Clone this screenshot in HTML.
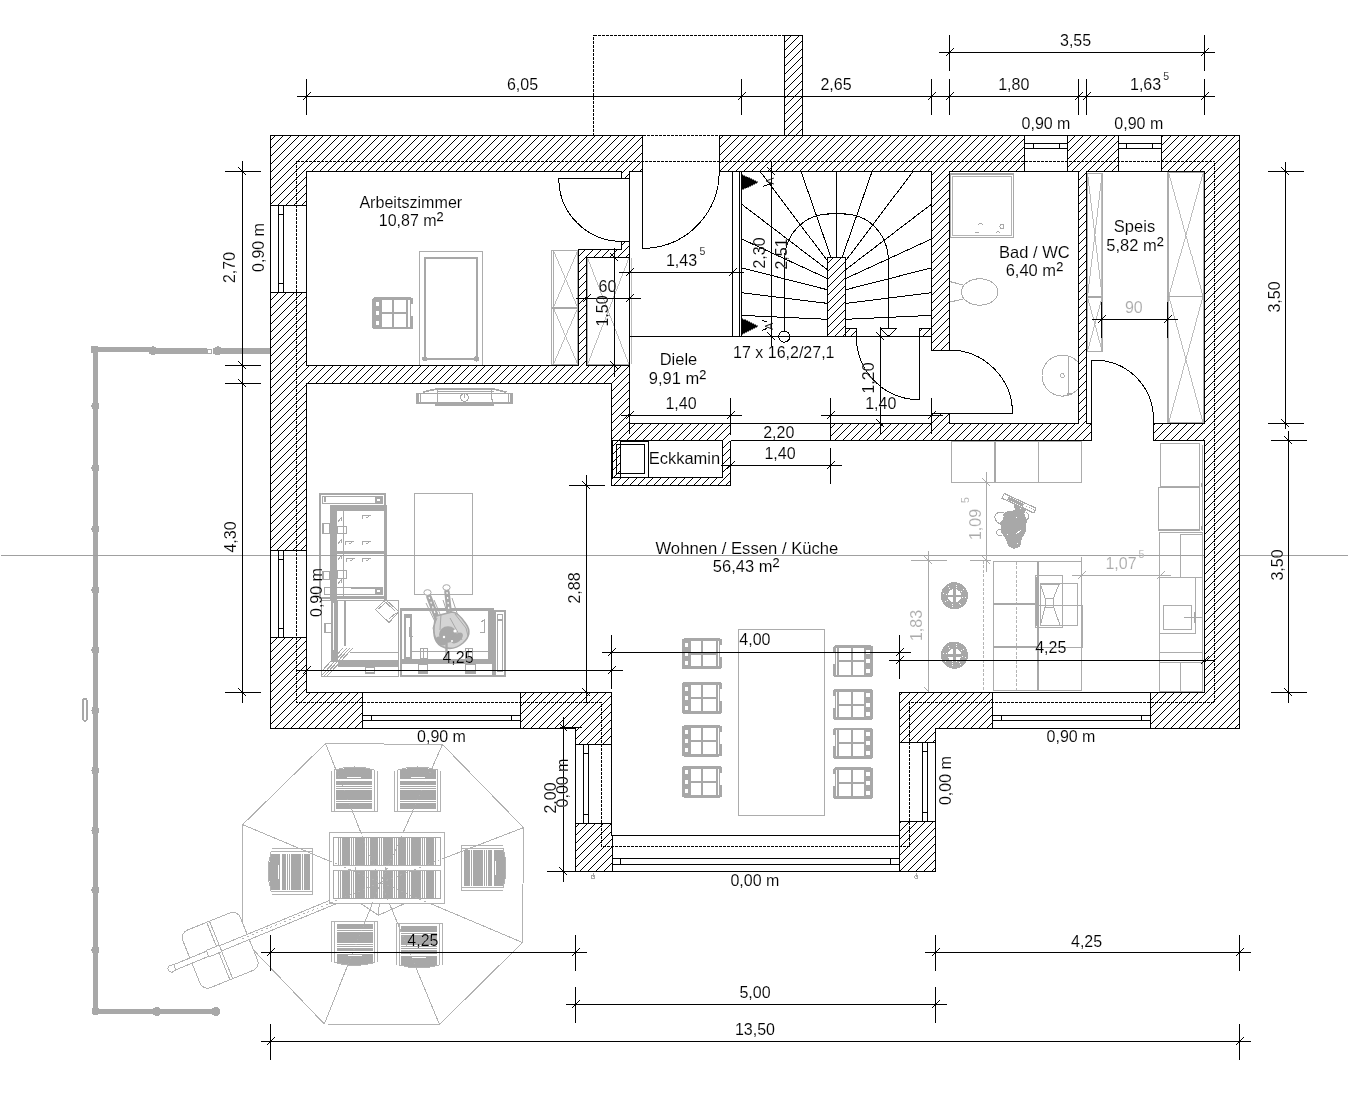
<!DOCTYPE html>
<html><head><meta charset="utf-8"><title>Grundriss Erdgeschoss</title>
<style>
html,body{margin:0;padding:0;background:#fff;}
body{width:1348px;height:1104px;overflow:hidden;}
svg{display:block;font-family:"Liberation Sans",Arial,sans-serif;will-change:transform;opacity:0.999;}
text{stroke:#fff;stroke-width:0.12px;paint-order:fill stroke;}
</style></head><body>
<svg width="1348" height="1104" viewBox="0 0 1348 1104" shape-rendering="crispEdges">
<defs>
<pattern id="h" patternUnits="userSpaceOnUse" width="8" height="8">
<rect width="8" height="8" fill="#fff"/>
<path d="M-1,4 L4,-1 M2,9 L9,2" stroke="#000" stroke-width="1" fill="none"/>
</pattern>
</defs>
<rect width="1348" height="1104" fill="#fff"/>
<line x1="91" y1="349.5" x2="151" y2="349.5" stroke="#a8a8a8" stroke-width="4.8" />
<line x1="150" y1="351" x2="207" y2="351" stroke="#a8a8a8" stroke-width="5.7" />
<line x1="213.2" y1="351" x2="270.3" y2="351" stroke="#a8a8a8" stroke-width="5.7" />
<rect x="207.5" y="349.5" width="4.0" height="4.0" stroke="#a8a8a8" stroke-width="1" fill="#fff" />
<line x1="95.2" y1="347" x2="95.2" y2="1013.5" stroke="#a8a8a8" stroke-width="5" />
<line x1="93.2" y1="1011.3" x2="220" y2="1011.3" stroke="#a8a8a8" stroke-width="5.5" />
<rect x="91" y="346.2" width="7" height="6.800000000000011" stroke="none" stroke-width="0" fill="#a8a8a8" />
<circle cx="153" cy="350.8" r="4.5" fill="#a8a8a8"/>
<circle cx="217.9" cy="350.8" r="4.5" fill="#a8a8a8"/>
<circle cx="156.8" cy="1011.5" r="4.5" fill="#a8a8a8"/>
<circle cx="215.8" cy="1011.5" r="4.5" fill="#a8a8a8"/>
<circle cx="95.4" cy="405.8" r="4" fill="#a8a8a8"/>
<circle cx="95.4" cy="468" r="4" fill="#a8a8a8"/>
<circle cx="95.4" cy="529" r="4" fill="#a8a8a8"/>
<circle cx="95.4" cy="590" r="4" fill="#a8a8a8"/>
<circle cx="95.4" cy="650" r="4" fill="#a8a8a8"/>
<circle cx="95.4" cy="710.5" r="4" fill="#a8a8a8"/>
<circle cx="95.4" cy="770.5" r="4" fill="#a8a8a8"/>
<circle cx="95.4" cy="830.5" r="4" fill="#a8a8a8"/>
<circle cx="95.4" cy="890" r="4" fill="#a8a8a8"/>
<circle cx="95.4" cy="950" r="4" fill="#a8a8a8"/>
<circle cx="95.6" cy="1011.3" r="4" fill="#a8a8a8"/>
<rect x="83.1" y="699" width="3.6000000000000085" height="21.700000000000045" stroke="#a8a8a8" stroke-width="1.9" fill="#fff" rx="1.5"/>
<polygon points="325.5,743.5 442.5,744.5 523.5,827.6 522.5,942.5 439.5,1024.5 324.3,1024 242.5,938.5 242.6,824.6" stroke="#b2b2b2" stroke-width="1" fill="none" />
<line x1="325.5" y1="743.5" x2="380.7" y2="882.6" stroke="#b2b2b2" stroke-width="1" />
<line x1="442.5" y1="744.5" x2="380.7" y2="882.6" stroke="#b2b2b2" stroke-width="1" />
<line x1="523.5" y1="827.6" x2="380.7" y2="882.6" stroke="#b2b2b2" stroke-width="1" />
<line x1="522.5" y1="942.5" x2="380.7" y2="882.6" stroke="#b2b2b2" stroke-width="1" />
<line x1="439.5" y1="1024.5" x2="380.7" y2="882.6" stroke="#b2b2b2" stroke-width="1" />
<line x1="324.3" y1="1024" x2="380.7" y2="882.6" stroke="#b2b2b2" stroke-width="1" />
<line x1="242.5" y1="938.5" x2="380.7" y2="882.6" stroke="#b2b2b2" stroke-width="1" />
<line x1="242.6" y1="824.6" x2="380.7" y2="882.6" stroke="#b2b2b2" stroke-width="1" />
<g transform="translate(219.5,950) rotate(-22)">
<rect x="-30.5" y="-30.5" width="62.0" height="62.0" stroke="#b2b2b2" stroke-width="1" fill="#fff" rx="8" ry="8"/>
<line x1="-1.5" y1="-30.5" x2="-1.5" y2="31.5" stroke="#b2b2b2" stroke-width="1" />
<line x1="1.5" y1="-30.5" x2="1.5" y2="31.5" stroke="#b2b2b2" stroke-width="1" />
</g>
<g transform="translate(172,968.4) rotate(-22.4)">
<path d="M2,-2.8 L197,-2.8 L197,2.8 L2,2.8 Z" stroke="#b2b2b2" stroke-width="1" fill="#fff" />
<path d="M0,-3.6 Q-4,-3.6 -4,0 Q-4,3.6 0,3.6 L3,2.6 L3,-2.6 Z" stroke="#b2b2b2" stroke-width="1" fill="#fff" />
<rect x="38.5" y="-3.5" width="14.0" height="7.0" stroke="#b2b2b2" stroke-width="1" fill="#fff" />
</g>
<polyline points="354.3,899.2 378.4,915.3 409.5,901.5" stroke="#b2b2b2" stroke-width="1" fill="none" />
<line x1="379.5" y1="900" x2="378.4" y2="915.3" stroke="#b2b2b2" stroke-width="1" />
<rect x="329.5" y="832.5" width="115.0" height="71.0" stroke="#b2b2b2" stroke-width="1" fill="#fff" />
<rect x="333" y="837" width="108" height="29" fill="#a8a8a8"/>
<rect x="333" y="870" width="108" height="29" fill="#a8a8a8"/>
<rect x="334" y="838" width="3" height="60" fill="#fff"/>
<rect x="437" y="838" width="3" height="60" fill="#fff"/>
<rect x="333" y="866" width="108" height="4" fill="#fff"/>
<line x1="333.5" y1="865.5" x2="440.5" y2="865.5" stroke="#b2b2b2" stroke-width="1" />
<line x1="333.5" y1="870.5" x2="440.5" y2="870.5" stroke="#b2b2b2" stroke-width="1" />
<line x1="355.5" y1="866.5" x2="355.5" y2="870.5" stroke="#b2b2b2" stroke-width="1" />
<line x1="385.5" y1="866.5" x2="385.5" y2="870.5" stroke="#b2b2b2" stroke-width="1" />
<rect x="337" y="838" width="1" height="27" fill="#fff"/>
<rect x="337" y="871" width="1" height="27" fill="#fff"/>
<rect x="339" y="838" width="1" height="27" fill="#fff"/>
<rect x="339" y="871" width="1" height="27" fill="#fff"/>
<rect x="341" y="838" width="1" height="27" fill="#fff"/>
<rect x="341" y="871" width="1" height="27" fill="#fff"/>
<rect x="350" y="838" width="1" height="27" fill="#fff"/>
<rect x="350" y="871" width="1" height="27" fill="#fff"/>
<rect x="352" y="838" width="1" height="27" fill="#fff"/>
<rect x="352" y="871" width="1" height="27" fill="#fff"/>
<rect x="354" y="838" width="1" height="27" fill="#fff"/>
<rect x="354" y="871" width="1" height="27" fill="#fff"/>
<rect x="365" y="838" width="1" height="27" fill="#fff"/>
<rect x="365" y="871" width="1" height="27" fill="#fff"/>
<rect x="367" y="838" width="1" height="27" fill="#fff"/>
<rect x="367" y="871" width="1" height="27" fill="#fff"/>
<rect x="369" y="838" width="1" height="27" fill="#fff"/>
<rect x="369" y="871" width="1" height="27" fill="#fff"/>
<rect x="378" y="838" width="1" height="27" fill="#fff"/>
<rect x="378" y="871" width="1" height="27" fill="#fff"/>
<rect x="380" y="838" width="1" height="27" fill="#fff"/>
<rect x="380" y="871" width="1" height="27" fill="#fff"/>
<rect x="382" y="838" width="1" height="27" fill="#fff"/>
<rect x="382" y="871" width="1" height="27" fill="#fff"/>
<rect x="393" y="838" width="1" height="27" fill="#fff"/>
<rect x="393" y="871" width="1" height="27" fill="#fff"/>
<rect x="395" y="838" width="1" height="27" fill="#fff"/>
<rect x="395" y="871" width="1" height="27" fill="#fff"/>
<rect x="397" y="838" width="1" height="27" fill="#fff"/>
<rect x="397" y="871" width="1" height="27" fill="#fff"/>
<rect x="406" y="838" width="1" height="27" fill="#fff"/>
<rect x="406" y="871" width="1" height="27" fill="#fff"/>
<rect x="408" y="838" width="1" height="27" fill="#fff"/>
<rect x="408" y="871" width="1" height="27" fill="#fff"/>
<rect x="410" y="838" width="1" height="27" fill="#fff"/>
<rect x="410" y="871" width="1" height="27" fill="#fff"/>
<rect x="421" y="838" width="1" height="27" fill="#fff"/>
<rect x="421" y="871" width="1" height="27" fill="#fff"/>
<rect x="423" y="838" width="1" height="27" fill="#fff"/>
<rect x="423" y="871" width="1" height="27" fill="#fff"/>
<rect x="425" y="838" width="1" height="27" fill="#fff"/>
<rect x="425" y="871" width="1" height="27" fill="#fff"/>
<rect x="434" y="838" width="1" height="27" fill="#fff"/>
<rect x="434" y="871" width="1" height="27" fill="#fff"/>
<rect x="436" y="838" width="1" height="27" fill="#fff"/>
<rect x="436" y="871" width="1" height="27" fill="#fff"/>
<rect x="438" y="838" width="1" height="27" fill="#fff"/>
<rect x="438" y="871" width="1" height="27" fill="#fff"/>
<line x1="325.5" y1="743.5" x2="380.7" y2="882.6" stroke="#b2b2b2" stroke-width="1" stroke-dasharray="2 3"/>
<line x1="442.5" y1="744.5" x2="380.7" y2="882.6" stroke="#b2b2b2" stroke-width="1" stroke-dasharray="2 3"/>
<line x1="523.5" y1="827.6" x2="380.7" y2="882.6" stroke="#b2b2b2" stroke-width="1" stroke-dasharray="2 3"/>
<line x1="522.5" y1="942.5" x2="380.7" y2="882.6" stroke="#b2b2b2" stroke-width="1" stroke-dasharray="2 3"/>
<line x1="439.5" y1="1024.5" x2="380.7" y2="882.6" stroke="#b2b2b2" stroke-width="1" stroke-dasharray="2 3"/>
<line x1="324.3" y1="1024" x2="380.7" y2="882.6" stroke="#b2b2b2" stroke-width="1" stroke-dasharray="2 3"/>
<line x1="242.5" y1="938.5" x2="380.7" y2="882.6" stroke="#b2b2b2" stroke-width="1" stroke-dasharray="2 3"/>
<line x1="242.6" y1="824.6" x2="380.7" y2="882.6" stroke="#b2b2b2" stroke-width="1" stroke-dasharray="2 3"/>
<g transform="translate(354.4,789.5) rotate(0)">
<path d="M-18,-19.5 Q0,-24.5 18,-19.5 L18,19.3 L-18,19.3 Z" fill="#a8a8a8"/>
<path d="M-20,-19.5 Q0,-25.5 20,-19.5" fill="none" stroke="#b2b2b2" stroke-width="1"/>
<rect x="-18" y="-10.6" width="36" height="2.1999999999999993" fill="#fff"/>
<rect x="-18" y="-4.6" width="36" height="0.9999999999999996" fill="#fff"/>
<rect x="-18" y="-2.6" width="36" height="1.0" fill="#fff"/>
<rect x="-18" y="-0.6" width="36" height="1.0" fill="#fff"/>
<rect x="-18" y="10.6" width="36" height="1.0" fill="#fff"/>
<rect x="-18" y="12.6" width="36" height="1.0" fill="#fff"/>
<rect x="-7" y="-12.6" width="14" height="1" fill="#fff"/>
<rect x="-20.4" y="-19.5" width="1" height="41" fill="#b2b2b2"/><rect x="19.4" y="-19.5" width="1" height="41" fill="#b2b2b2"/>
<rect x="-23.4" y="-19" width="1" height="40.5" fill="#b2b2b2"/><rect x="22.4" y="-19" width="1" height="40.5" fill="#b2b2b2"/>
<rect x="-23.4" y="21.4" width="46.8" height="1" fill="#b2b2b2"/>
</g>
<g transform="translate(417.6,789.5) rotate(0)">
<path d="M-18,-19.5 Q0,-24.5 18,-19.5 L18,19.3 L-18,19.3 Z" fill="#a8a8a8"/>
<path d="M-20,-19.5 Q0,-25.5 20,-19.5" fill="none" stroke="#b2b2b2" stroke-width="1"/>
<rect x="-18" y="-10.6" width="36" height="2.1999999999999993" fill="#fff"/>
<rect x="-18" y="-4.6" width="36" height="0.9999999999999996" fill="#fff"/>
<rect x="-18" y="-2.6" width="36" height="1.0" fill="#fff"/>
<rect x="-18" y="-0.6" width="36" height="1.0" fill="#fff"/>
<rect x="-18" y="10.6" width="36" height="1.0" fill="#fff"/>
<rect x="-18" y="12.6" width="36" height="1.0" fill="#fff"/>
<rect x="-7" y="-12.6" width="14" height="1" fill="#fff"/>
<rect x="-20.4" y="-19.5" width="1" height="41" fill="#b2b2b2"/><rect x="19.4" y="-19.5" width="1" height="41" fill="#b2b2b2"/>
<rect x="-23.4" y="-19" width="1" height="40.5" fill="#b2b2b2"/><rect x="22.4" y="-19" width="1" height="40.5" fill="#b2b2b2"/>
<rect x="-23.4" y="21.4" width="46.8" height="1" fill="#b2b2b2"/>
</g>
<g transform="translate(354.8,943) rotate(180)">
<path d="M-18,-19.5 Q0,-24.5 18,-19.5 L18,19.3 L-18,19.3 Z" fill="#a8a8a8"/>
<path d="M-20,-19.5 Q0,-25.5 20,-19.5" fill="none" stroke="#b2b2b2" stroke-width="1"/>
<rect x="-18" y="-10.6" width="36" height="2.1999999999999993" fill="#fff"/>
<rect x="-18" y="-4.6" width="36" height="0.9999999999999996" fill="#fff"/>
<rect x="-18" y="-2.6" width="36" height="1.0" fill="#fff"/>
<rect x="-18" y="-0.6" width="36" height="1.0" fill="#fff"/>
<rect x="-18" y="10.6" width="36" height="1.0" fill="#fff"/>
<rect x="-18" y="12.6" width="36" height="1.0" fill="#fff"/>
<rect x="-7" y="-12.6" width="14" height="1" fill="#fff"/>
<rect x="-20.4" y="-19.5" width="1" height="41" fill="#b2b2b2"/><rect x="19.4" y="-19.5" width="1" height="41" fill="#b2b2b2"/>
<rect x="-23.4" y="-19" width="1" height="40.5" fill="#b2b2b2"/><rect x="22.4" y="-19" width="1" height="40.5" fill="#b2b2b2"/>
<rect x="-23.4" y="21.4" width="46.8" height="1" fill="#b2b2b2"/>
</g>
<g transform="translate(419.2,945.5) rotate(180)">
<path d="M-18,-19.5 Q0,-24.5 18,-19.5 L18,19.3 L-18,19.3 Z" fill="#a8a8a8"/>
<path d="M-20,-19.5 Q0,-25.5 20,-19.5" fill="none" stroke="#b2b2b2" stroke-width="1"/>
<rect x="-18" y="-10.6" width="36" height="2.1999999999999993" fill="#fff"/>
<rect x="-18" y="-4.6" width="36" height="0.9999999999999996" fill="#fff"/>
<rect x="-18" y="-2.6" width="36" height="1.0" fill="#fff"/>
<rect x="-18" y="-0.6" width="36" height="1.0" fill="#fff"/>
<rect x="-18" y="10.6" width="36" height="1.0" fill="#fff"/>
<rect x="-18" y="12.6" width="36" height="1.0" fill="#fff"/>
<rect x="-7" y="-12.6" width="14" height="1" fill="#fff"/>
<rect x="-20.4" y="-19.5" width="1" height="41" fill="#b2b2b2"/><rect x="19.4" y="-19.5" width="1" height="41" fill="#b2b2b2"/>
<rect x="-23.4" y="-19" width="1" height="40.5" fill="#b2b2b2"/><rect x="22.4" y="-19" width="1" height="40.5" fill="#b2b2b2"/>
<rect x="-23.4" y="21.4" width="46.8" height="1" fill="#b2b2b2"/>
</g>
<g transform="translate(290.7,871.5) rotate(-90)">
<path d="M-18,-19.5 Q0,-24.5 18,-19.5 L18,19.3 L-18,19.3 Z" fill="#a8a8a8"/>
<path d="M-20,-19.5 Q0,-25.5 20,-19.5" fill="none" stroke="#b2b2b2" stroke-width="1"/>
<rect x="-18" y="-10.6" width="36" height="2.1999999999999993" fill="#fff"/>
<rect x="-18" y="-4.6" width="36" height="0.9999999999999996" fill="#fff"/>
<rect x="-18" y="-2.6" width="36" height="1.0" fill="#fff"/>
<rect x="-18" y="-0.6" width="36" height="1.0" fill="#fff"/>
<rect x="-18" y="10.6" width="36" height="1.0" fill="#fff"/>
<rect x="-18" y="12.6" width="36" height="1.0" fill="#fff"/>
<rect x="-7" y="-12.6" width="14" height="1" fill="#fff"/>
<rect x="-20.4" y="-19.5" width="1" height="41" fill="#b2b2b2"/><rect x="19.4" y="-19.5" width="1" height="41" fill="#b2b2b2"/>
<rect x="-23.4" y="-19" width="1" height="40.5" fill="#b2b2b2"/><rect x="22.4" y="-19" width="1" height="40.5" fill="#b2b2b2"/>
<rect x="-23.4" y="21.4" width="46.8" height="1" fill="#b2b2b2"/>
</g>
<g transform="translate(483.5,868) rotate(90)">
<path d="M-18,-19.5 Q0,-24.5 18,-19.5 L18,19.3 L-18,19.3 Z" fill="#a8a8a8"/>
<path d="M-20,-19.5 Q0,-25.5 20,-19.5" fill="none" stroke="#b2b2b2" stroke-width="1"/>
<rect x="-18" y="-10.6" width="36" height="2.1999999999999993" fill="#fff"/>
<rect x="-18" y="-4.6" width="36" height="0.9999999999999996" fill="#fff"/>
<rect x="-18" y="-2.6" width="36" height="1.0" fill="#fff"/>
<rect x="-18" y="-0.6" width="36" height="1.0" fill="#fff"/>
<rect x="-18" y="10.6" width="36" height="1.0" fill="#fff"/>
<rect x="-18" y="12.6" width="36" height="1.0" fill="#fff"/>
<rect x="-7" y="-12.6" width="14" height="1" fill="#fff"/>
<rect x="-20.4" y="-19.5" width="1" height="41" fill="#b2b2b2"/><rect x="19.4" y="-19.5" width="1" height="41" fill="#b2b2b2"/>
<rect x="-23.4" y="-19" width="1" height="40.5" fill="#b2b2b2"/><rect x="22.4" y="-19" width="1" height="40.5" fill="#b2b2b2"/>
<rect x="-23.4" y="21.4" width="46.8" height="1" fill="#b2b2b2"/>
</g>
<line x1="325.5" y1="743.5" x2="380.7" y2="882.6" stroke="#b2b2b2" stroke-width="1" stroke-dasharray="1 4"/>
<line x1="442.5" y1="744.5" x2="380.7" y2="882.6" stroke="#b2b2b2" stroke-width="1" stroke-dasharray="1 4"/>
<line x1="523.5" y1="827.6" x2="380.7" y2="882.6" stroke="#b2b2b2" stroke-width="1" stroke-dasharray="1 4"/>
<line x1="522.5" y1="942.5" x2="380.7" y2="882.6" stroke="#b2b2b2" stroke-width="1" stroke-dasharray="1 4"/>
<line x1="439.5" y1="1024.5" x2="380.7" y2="882.6" stroke="#b2b2b2" stroke-width="1" stroke-dasharray="1 4"/>
<line x1="324.3" y1="1024" x2="380.7" y2="882.6" stroke="#b2b2b2" stroke-width="1" stroke-dasharray="1 4"/>
<line x1="242.5" y1="938.5" x2="380.7" y2="882.6" stroke="#b2b2b2" stroke-width="1" stroke-dasharray="1 4"/>
<line x1="242.6" y1="824.6" x2="380.7" y2="882.6" stroke="#b2b2b2" stroke-width="1" stroke-dasharray="1 4"/>
<rect x="419.5" y="251.5" width="63.0" height="114.0" stroke="#acacac" stroke-width="1" fill="none" />
<rect x="424.7" y="257.8" width="51.900000000000034" height="100.89999999999998" stroke="#a8a8a8" stroke-width="2.2" fill="none" />
<circle cx="424.8" cy="358.9" r="2.6" fill="#a8a8a8"/><circle cx="476.5" cy="358.9" r="2.6" fill="#a8a8a8"/>
<rect x="373.7" y="298.79999999999995" width="38.10000000000002" height="29.200000000000045" stroke="#a8a8a8" stroke-width="2.8" fill="#fff" rx="1.5"/>
<rect x="372.8" y="298.4" width="8.800000000000011" height="30.0" stroke="none" stroke-width="0" fill="#a8a8a8" />
<rect x="375.7" y="301.79999999999995" width="3.2000000000000455" height="4.0" stroke="none" stroke-width="0" fill="#fff" />
<rect x="375.7" y="311.4" width="3.2000000000000455" height="4.0" stroke="none" stroke-width="0" fill="#fff" />
<rect x="375.7" y="321.0" width="3.2000000000000455" height="4.0" stroke="none" stroke-width="0" fill="#fff" />
<rect x="392.0" y="299.4" width="2.1000000000000227" height="28.0" stroke="none" stroke-width="0" fill="#a8a8a8" />
<rect x="406.3" y="299.4" width="2.0" height="28.0" stroke="none" stroke-width="0" fill="#a8a8a8" />
<rect x="381.6" y="312.4" width="26.69999999999999" height="2.0" stroke="none" stroke-width="0" fill="#a8a8a8" />
<rect x="411.3" y="304.4" width="1.8999999999999773" height="12.0" stroke="none" stroke-width="0" fill="#fff" />
<rect x="551.5" y="250.5" width="26.0" height="114.0" stroke="#acacac" stroke-width="1" fill="none" />
<rect x="553.5" y="250.5" width="24.0" height="57.0" stroke="#acacac" stroke-width="1" fill="none" />
<line x1="553.3" y1="250.3" x2="577.8" y2="307.8" stroke="#acacac" stroke-width="0.8" />
<line x1="553.3" y1="307.8" x2="577.8" y2="250.3" stroke="#acacac" stroke-width="0.8" />
<rect x="553.5" y="307.5" width="24.0" height="57.0" stroke="#acacac" stroke-width="1" fill="none" />
<line x1="553.3" y1="307.8" x2="577.8" y2="364.5" stroke="#acacac" stroke-width="0.8" />
<line x1="553.3" y1="364.5" x2="577.8" y2="307.8" stroke="#acacac" stroke-width="0.8" />
<line x1="552" y1="307.8" x2="578" y2="307.8" stroke="#a8a8a8" stroke-width="1.6" />
<rect x="587.5" y="257.5" width="42.0" height="107.0" stroke="#acacac" stroke-width="1" fill="none" />
<line x1="587.5" y1="257.8" x2="629" y2="364.5" stroke="#acacac" stroke-width="0.8" />
<line x1="587.5" y1="364.5" x2="629" y2="257.8" stroke="#acacac" stroke-width="0.8" />
<line x1="631.2" y1="258" x2="631.2" y2="364" stroke="#acacac" stroke-width="0.8" />
<path d="M422.8,392.2 L436.2,389 L494,389 L506.5,392.2" stroke="#a8a8a8" stroke-width="1.7" fill="none" />
<line x1="437.5" y1="391.5" x2="493.5" y2="391.5" stroke="#a8a8a8" stroke-width="1" />
<line x1="419" y1="393.5" x2="511" y2="393.5" stroke="#a8a8a8" stroke-width="1.2" />
<rect x="416.2" y="393.3" width="2.6999999999999886" height="10.899999999999977" stroke="none" stroke-width="0" fill="#a8a8a8" />
<rect x="510.3" y="393.3" width="2.6999999999999886" height="10.899999999999977" stroke="none" stroke-width="0" fill="#a8a8a8" />
<line x1="420.5" y1="393.5" x2="420.5" y2="403.5" stroke="#a8a8a8" stroke-width="1" />
<line x1="508.5" y1="393.5" x2="508.5" y2="403.5" stroke="#a8a8a8" stroke-width="1" />
<line x1="419" y1="403.3" x2="511" y2="403.3" stroke="#a8a8a8" stroke-width="2.2" />
<line x1="435.3" y1="404.4" x2="494" y2="404.4" stroke="#a8a8a8" stroke-width="2.2" />
<line x1="437.8" y1="389" x2="437" y2="402.5" stroke="#a8a8a8" stroke-width="1" />
<line x1="491.4" y1="389" x2="492.2" y2="402.5" stroke="#a8a8a8" stroke-width="1" />
<circle cx="464.5" cy="397.4" r="3.9" fill="none" stroke="#a8a8a8" stroke-width="1.1"/>
<line x1="464.5" y1="393.5" x2="464.5" y2="398" stroke="#a8a8a8" stroke-width="1.1" />
<rect x="414.5" y="493.5" width="58.0" height="101.0" stroke="#acacac" stroke-width="1" fill="none" />
<rect x="319" y="493" width="67" height="2" fill="#a8a8a8"/>
<rect x="319" y="597" width="67" height="2" fill="#a8a8a8"/>
<rect x="319" y="493" width="2" height="106" fill="#a8a8a8"/>
<rect x="384" y="493" width="2" height="106" fill="#a8a8a8"/>
<rect x="322" y="496" width="61" height="1" fill="#a8a8a8"/>
<rect x="322" y="503" width="61" height="1" fill="#a8a8a8"/>
<rect x="322" y="496" width="1" height="8" fill="#a8a8a8"/>
<rect x="382" y="496" width="1" height="8" fill="#a8a8a8"/>
<rect x="375" y="497" width="7" height="2" fill="#a8a8a8"/>
<rect x="375" y="501" width="7" height="2" fill="#a8a8a8"/>
<rect x="375" y="497" width="2" height="6" fill="#a8a8a8"/>
<rect x="380" y="497" width="2" height="6" fill="#a8a8a8"/>
<rect x="324" y="497" width="2" height="5" fill="#a8a8a8"/>
<rect x="330" y="505" width="7" height="95" fill="#a8a8a8"/>
<rect x="330" y="505" width="57" height="6" fill="#a8a8a8"/>
<rect x="384" y="505" width="3" height="95" fill="#a8a8a8"/>
<rect x="330" y="551" width="57" height="3" fill="#a8a8a8"/>
<rect x="330" y="596" width="57" height="3" fill="#a8a8a8"/>
<rect x="343" y="511" width="1" height="85" fill="#a8a8a8"/>
<rect x="322" y="523" width="8" height="1" fill="#a8a8a8"/>
<rect x="322" y="533" width="8" height="1" fill="#a8a8a8"/>
<rect x="322" y="523" width="1" height="11" fill="#a8a8a8"/>
<rect x="329" y="523" width="1" height="11" fill="#a8a8a8"/>
<rect x="322" y="523" width="2" height="11" fill="#a8a8a8"/>
<rect x="322" y="571" width="8" height="1" fill="#a8a8a8"/>
<rect x="322" y="579" width="8" height="1" fill="#a8a8a8"/>
<rect x="322" y="571" width="1" height="9" fill="#a8a8a8"/>
<rect x="329" y="571" width="1" height="9" fill="#a8a8a8"/>
<rect x="322" y="571" width="2" height="9" fill="#a8a8a8"/>
<rect x="337" y="526" width="10" height="1" fill="#a8a8a8"/>
<rect x="337" y="533" width="10" height="1" fill="#a8a8a8"/>
<rect x="337" y="526" width="1" height="8" fill="#a8a8a8"/>
<rect x="346" y="526" width="1" height="8" fill="#a8a8a8"/>
<rect x="337" y="570" width="10" height="1" fill="#a8a8a8"/>
<rect x="337" y="578" width="10" height="1" fill="#a8a8a8"/>
<rect x="337" y="570" width="1" height="9" fill="#a8a8a8"/>
<rect x="346" y="570" width="1" height="9" fill="#a8a8a8"/>
<rect x="324" y="587" width="59" height="1" fill="#a8a8a8"/>
<rect x="324" y="594" width="59" height="1" fill="#a8a8a8"/>
<rect x="324" y="587" width="1" height="8" fill="#a8a8a8"/>
<rect x="382" y="587" width="1" height="8" fill="#a8a8a8"/>
<rect x="375" y="588" width="7" height="2" fill="#a8a8a8"/>
<rect x="375" y="592" width="7" height="2" fill="#a8a8a8"/>
<rect x="375" y="588" width="2" height="6" fill="#a8a8a8"/>
<rect x="380" y="588" width="2" height="6" fill="#a8a8a8"/>
<rect x="351" y="587" width="32" height="2" fill="#a8a8a8"/>
<path d="M362,519 l0,-4 l9,0 l-5,3" stroke="#a8a8a8" stroke-width="1" fill="none" />
<path d="M345,545 l0,-4 l9,0 l-5,3" stroke="#a8a8a8" stroke-width="1" fill="none" />
<path d="M362,545 l0,-4 l9,0 l-5,3" stroke="#a8a8a8" stroke-width="1" fill="none" />
<path d="M346,562 l0,-4 l9,0 l-5,3" stroke="#a8a8a8" stroke-width="1" fill="none" />
<path d="M362,562 l0,-4 l9,0 l-5,3" stroke="#a8a8a8" stroke-width="1" fill="none" />
<path d="M338,522 l3,-4 l0,3" stroke="#a8a8a8" stroke-width="1" fill="none" />
<path d="M338,544 l3,-4 l0,3" stroke="#a8a8a8" stroke-width="1" fill="none" />
<path d="M338,560 l3,-4 l0,3" stroke="#a8a8a8" stroke-width="1" fill="none" />
<path d="M338,584 l3,-4 l0,3" stroke="#a8a8a8" stroke-width="1" fill="none" />
<rect x="321" y="600" width="78" height="1" fill="#a8a8a8"/>
<rect x="321" y="676" width="78" height="1" fill="#a8a8a8"/>
<rect x="321" y="600" width="1" height="77" fill="#a8a8a8"/>
<rect x="398" y="600" width="1" height="77" fill="#a8a8a8"/>
<rect x="331" y="600" width="7" height="62" fill="#a8a8a8"/>
<rect x="333" y="603" width="1" height="47" fill="#fff"/>
<rect x="344" y="600" width="2" height="46" fill="#a8a8a8"/>
<rect x="338" y="660" width="61" height="7" fill="#a8a8a8"/>
<rect x="350" y="652" width="48" height="1" fill="#a8a8a8"/>
<rect x="324" y="623" width="8" height="1" fill="#a8a8a8"/>
<rect x="324" y="632" width="8" height="1" fill="#a8a8a8"/>
<rect x="324" y="623" width="1" height="10" fill="#a8a8a8"/>
<rect x="331" y="623" width="1" height="10" fill="#a8a8a8"/>
<rect x="324" y="623" width="2" height="10" fill="#a8a8a8"/>
<rect x="365" y="667" width="10" height="1" fill="#a8a8a8"/>
<rect x="365" y="673" width="10" height="1" fill="#a8a8a8"/>
<rect x="365" y="667" width="1" height="7" fill="#a8a8a8"/>
<rect x="374" y="667" width="1" height="7" fill="#a8a8a8"/>
<rect x="365" y="672" width="10" height="2" fill="#a8a8a8"/>
<line x1="321" y1="676.4" x2="346.6" y2="648.2" stroke="#a8a8a8" stroke-width="1" />
<line x1="324" y1="676.4" x2="349.6" y2="648.2" stroke="#a8a8a8" stroke-width="1" />
<line x1="327" y1="676.4" x2="352.6" y2="648.2" stroke="#a8a8a8" stroke-width="1" />
<line x1="321" y1="672" x2="343" y2="648" stroke="#a8a8a8" stroke-width="1" />
<rect x="400" y="608" width="94" height="2" fill="#a8a8a8"/>
<rect x="400" y="675" width="94" height="2" fill="#a8a8a8"/>
<rect x="400" y="608" width="2" height="69" fill="#a8a8a8"/>
<rect x="492" y="608" width="2" height="69" fill="#a8a8a8"/>
<rect x="400" y="608" width="93" height="3" fill="#a8a8a8"/>
<rect x="488" y="608" width="5" height="56" fill="#a8a8a8"/>
<rect x="400" y="659" width="94" height="5" fill="#a8a8a8"/>
<rect x="494" y="610" width="12" height="2" fill="#a8a8a8"/>
<rect x="494" y="675" width="12" height="2" fill="#a8a8a8"/>
<rect x="494" y="610" width="2" height="67" fill="#a8a8a8"/>
<rect x="504" y="610" width="2" height="67" fill="#a8a8a8"/>
<rect x="497" y="614" width="6" height="1" fill="#a8a8a8"/>
<rect x="497" y="671" width="6" height="1" fill="#a8a8a8"/>
<rect x="497" y="614" width="1" height="58" fill="#a8a8a8"/>
<rect x="502" y="614" width="1" height="58" fill="#a8a8a8"/>
<rect x="497" y="619" width="6" height="2" fill="#a8a8a8"/>
<rect x="404" y="614" width="8" height="2" fill="#a8a8a8"/>
<rect x="404" y="657" width="8" height="2" fill="#a8a8a8"/>
<rect x="404" y="614" width="2" height="45" fill="#a8a8a8"/>
<rect x="410" y="614" width="2" height="45" fill="#a8a8a8"/>
<rect x="404" y="614" width="8" height="4" fill="#a8a8a8"/>
<rect x="412" y="651" width="76" height="1" fill="#a8a8a8"/>
<rect x="418" y="664" width="10" height="1" fill="#a8a8a8"/>
<rect x="418" y="673" width="10" height="1" fill="#a8a8a8"/>
<rect x="418" y="664" width="1" height="10" fill="#a8a8a8"/>
<rect x="427" y="664" width="1" height="10" fill="#a8a8a8"/>
<rect x="418" y="671" width="10" height="3" fill="#a8a8a8"/>
<rect x="465" y="664" width="11" height="1" fill="#a8a8a8"/>
<rect x="465" y="673" width="11" height="1" fill="#a8a8a8"/>
<rect x="465" y="664" width="1" height="10" fill="#a8a8a8"/>
<rect x="475" y="664" width="1" height="10" fill="#a8a8a8"/>
<rect x="465" y="671" width="11" height="3" fill="#a8a8a8"/>
<rect x="420" y="648" width="8" height="1" fill="#a8a8a8"/>
<rect x="420" y="658" width="8" height="1" fill="#a8a8a8"/>
<rect x="420" y="648" width="1" height="11" fill="#a8a8a8"/>
<rect x="427" y="648" width="1" height="11" fill="#a8a8a8"/>
<rect x="465" y="648" width="8" height="1" fill="#a8a8a8"/>
<rect x="465" y="658" width="8" height="1" fill="#a8a8a8"/>
<rect x="465" y="648" width="1" height="11" fill="#a8a8a8"/>
<rect x="472" y="648" width="1" height="11" fill="#a8a8a8"/>
<rect x="423" y="649" width="1" height="9" fill="#a8a8a8"/>
<rect x="468" y="649" width="1" height="9" fill="#a8a8a8"/>
<path d="M481,622 l3,-2 l0,12 l-4,0" stroke="#a8a8a8" stroke-width="1" fill="none" />
<path d="M409,627 l0,9 l4,0" stroke="#a8a8a8" stroke-width="1" fill="none" />
<polygon points="375.5,609.5 385.7,599.7 398.8,611.6 389,622.6" stroke="#a8a8a8" stroke-width="1" fill="#fff" />
<polyline points="378.5,609 385.8,602.3 395.3,611.3" stroke="#a8a8a8" stroke-width="1" fill="none" />
<line x1="389" y1="619" x2="396.5" y2="612.5" stroke="#a8a8a8" stroke-width="1" />
<g fill="none" stroke="#a8a8a8" stroke-width="1" shape-rendering="auto">
<path d="M429,597 L438,621 M447,592 L450,620" stroke-width="5.5" stroke-linecap="round"/>
<path d="M429,597 L438,621 M447,592 L450,620" stroke="#fff" stroke-width="1.2" stroke-dasharray="2 3"/>
<ellipse cx="427.5" cy="592.5" rx="3.6" ry="2.8" fill="#fff"/>
<ellipse cx="446.5" cy="587.5" rx="3.6" ry="2.8" fill="#fff"/>
<path d="M426,603 L438,628 M434,600 L446,628 M452,598 L462,628 M443,600 L447,612"/>
<path d="M436,616 Q430,640 441,646 Q452,652 463,643 Q473,634 466,624 Q458,612 452,612 Z" stroke-width="1.6" fill="#d4d4d4"/>
<path d="M437,618 L433,628 L436,640 M441,614 L440,630 M455,614 L466,628 L468,636 M450,618 L462,640"/>
<ellipse cx="448" cy="634.5" rx="9" ry="8.2" fill="#a8a8a8" stroke="none"/>
<ellipse cx="441" cy="641" rx="6" ry="4" fill="#a8a8a8" stroke="none" transform="rotate(30 441 641)"/>
<ellipse cx="457" cy="638" rx="7" ry="4" fill="#a8a8a8" stroke="none" transform="rotate(-40 457 638)"/>
<circle cx="455" cy="631" r="1.6" fill="#fff" stroke="none"/><circle cx="444" cy="637" r="1.2" fill="#fff" stroke="none"/><circle cx="452" cy="641" r="1" fill="#fff" stroke="none"/>
<line x1="446.5" y1="640" x2="446.5" y2="660" stroke-width="2.4"/>
</g>
<rect x="738.5" y="629.5" width="86.0" height="186.0" stroke="#acacac" stroke-width="1" fill="none" />
<rect x="683.0" y="639.8" width="37.80000000000007" height="28.000000000000114" stroke="#a8a8a8" stroke-width="2.8" fill="#fff" rx="1.5"/>
<rect x="682.1" y="639.4" width="8.799999999999955" height="28.800000000000068" stroke="none" stroke-width="0" fill="#a8a8a8" />
<rect x="685.0" y="642.56" width="3.2000000000000455" height="4.0" stroke="none" stroke-width="0" fill="#fff" />
<rect x="685.0" y="651.8" width="3.2000000000000455" height="4.0" stroke="none" stroke-width="0" fill="#fff" />
<rect x="685.0" y="661.0400000000001" width="3.2000000000000455" height="4.0" stroke="none" stroke-width="0" fill="#fff" />
<rect x="701.3000000000001" y="640.4" width="2.099999999999909" height="26.800000000000068" stroke="none" stroke-width="0" fill="#a8a8a8" />
<rect x="715.6" y="640.4" width="2.0" height="26.800000000000068" stroke="none" stroke-width="0" fill="#a8a8a8" />
<rect x="690.9" y="652.8" width="26.700000000000045" height="2.0" stroke="none" stroke-width="0" fill="#a8a8a8" />
<rect x="720.3000000000001" y="645.4" width="1.8999999999999773" height="11.399999999999977" stroke="none" stroke-width="0" fill="#fff" />
<rect x="683.0" y="683.6999999999999" width="37.80000000000007" height="28.800000000000068" stroke="#a8a8a8" stroke-width="2.8" fill="#fff" rx="1.5"/>
<rect x="682.1" y="683.3" width="8.799999999999955" height="29.600000000000023" stroke="none" stroke-width="0" fill="#a8a8a8" />
<rect x="685.0" y="686.62" width="3.2000000000000455" height="4.0" stroke="none" stroke-width="0" fill="#fff" />
<rect x="685.0" y="696.0999999999999" width="3.2000000000000455" height="4.0" stroke="none" stroke-width="0" fill="#fff" />
<rect x="685.0" y="705.5799999999999" width="3.2000000000000455" height="4.0" stroke="none" stroke-width="0" fill="#fff" />
<rect x="701.3000000000001" y="684.3" width="2.099999999999909" height="27.600000000000023" stroke="none" stroke-width="0" fill="#a8a8a8" />
<rect x="715.6" y="684.3" width="2.0" height="27.600000000000023" stroke="none" stroke-width="0" fill="#a8a8a8" />
<rect x="690.9" y="697.0999999999999" width="26.700000000000045" height="2.0" stroke="none" stroke-width="0" fill="#a8a8a8" />
<rect x="720.3000000000001" y="689.3" width="1.8999999999999773" height="11.799999999999955" stroke="none" stroke-width="0" fill="#fff" />
<rect x="683.0" y="726.8" width="37.80000000000007" height="28.300000000000068" stroke="#a8a8a8" stroke-width="2.8" fill="#fff" rx="1.5"/>
<rect x="682.1" y="726.4" width="8.799999999999955" height="29.100000000000023" stroke="none" stroke-width="0" fill="#a8a8a8" />
<rect x="685.0" y="729.62" width="3.2000000000000455" height="4.0" stroke="none" stroke-width="0" fill="#fff" />
<rect x="685.0" y="738.95" width="3.2000000000000455" height="4.0" stroke="none" stroke-width="0" fill="#fff" />
<rect x="685.0" y="748.28" width="3.2000000000000455" height="4.0" stroke="none" stroke-width="0" fill="#fff" />
<rect x="701.3000000000001" y="727.4" width="2.099999999999909" height="27.100000000000023" stroke="none" stroke-width="0" fill="#a8a8a8" />
<rect x="715.6" y="727.4" width="2.0" height="27.100000000000023" stroke="none" stroke-width="0" fill="#a8a8a8" />
<rect x="690.9" y="739.95" width="26.700000000000045" height="2.0" stroke="none" stroke-width="0" fill="#a8a8a8" />
<rect x="720.3000000000001" y="732.4" width="1.8999999999999773" height="11.550000000000068" stroke="none" stroke-width="0" fill="#fff" />
<rect x="683.0" y="767.5" width="37.80000000000007" height="28.700000000000045" stroke="#a8a8a8" stroke-width="2.8" fill="#fff" rx="1.5"/>
<rect x="682.1" y="767.1" width="8.799999999999955" height="29.5" stroke="none" stroke-width="0" fill="#a8a8a8" />
<rect x="685.0" y="770.4" width="3.2000000000000455" height="4.0" stroke="none" stroke-width="0" fill="#fff" />
<rect x="685.0" y="779.85" width="3.2000000000000455" height="4.0" stroke="none" stroke-width="0" fill="#fff" />
<rect x="685.0" y="789.3000000000001" width="3.2000000000000455" height="4.0" stroke="none" stroke-width="0" fill="#fff" />
<rect x="701.3000000000001" y="768.1" width="2.099999999999909" height="27.5" stroke="none" stroke-width="0" fill="#a8a8a8" />
<rect x="715.6" y="768.1" width="2.0" height="27.5" stroke="none" stroke-width="0" fill="#a8a8a8" />
<rect x="690.9" y="780.85" width="26.700000000000045" height="2.0" stroke="none" stroke-width="0" fill="#a8a8a8" />
<rect x="720.3000000000001" y="773.1" width="1.8999999999999773" height="11.75" stroke="none" stroke-width="0" fill="#fff" />
<rect x="834.5" y="646.6999999999999" width="37.10000000000002" height="29.300000000000068" stroke="#a8a8a8" stroke-width="2.8" fill="#fff" rx="1.5"/>
<rect x="863.7" y="646.3" width="8.799999999999955" height="30.100000000000023" stroke="none" stroke-width="0" fill="#a8a8a8" />
<rect x="866.4" y="649.7199999999999" width="3.2000000000000455" height="4.0" stroke="none" stroke-width="0" fill="#fff" />
<rect x="866.4" y="659.3499999999999" width="3.2000000000000455" height="4.0" stroke="none" stroke-width="0" fill="#fff" />
<rect x="866.4" y="668.98" width="3.2000000000000455" height="4.0" stroke="none" stroke-width="0" fill="#fff" />
<rect x="851.2" y="647.3" width="2.099999999999909" height="28.100000000000023" stroke="none" stroke-width="0" fill="#a8a8a8" />
<rect x="837" y="647.3" width="2" height="28.100000000000023" stroke="none" stroke-width="0" fill="#a8a8a8" />
<rect x="837" y="660.3499999999999" width="26.700000000000045" height="2.0" stroke="none" stroke-width="0" fill="#a8a8a8" />
<rect x="833.1" y="652.3" width="1.8999999999999773" height="12.049999999999955" stroke="none" stroke-width="0" fill="#fff" />
<rect x="834.5" y="690.6" width="37.10000000000002" height="28.200000000000045" stroke="#a8a8a8" stroke-width="2.8" fill="#fff" rx="1.5"/>
<rect x="863.7" y="690.2" width="8.799999999999955" height="29.0" stroke="none" stroke-width="0" fill="#a8a8a8" />
<rect x="866.4" y="693.4000000000001" width="3.2000000000000455" height="4.0" stroke="none" stroke-width="0" fill="#fff" />
<rect x="866.4" y="702.7" width="3.2000000000000455" height="4.0" stroke="none" stroke-width="0" fill="#fff" />
<rect x="866.4" y="712.0" width="3.2000000000000455" height="4.0" stroke="none" stroke-width="0" fill="#fff" />
<rect x="851.2" y="691.2" width="2.099999999999909" height="27.0" stroke="none" stroke-width="0" fill="#a8a8a8" />
<rect x="837" y="691.2" width="2" height="27.0" stroke="none" stroke-width="0" fill="#a8a8a8" />
<rect x="837" y="703.7" width="26.700000000000045" height="2.0" stroke="none" stroke-width="0" fill="#a8a8a8" />
<rect x="833.1" y="696.2" width="1.8999999999999773" height="11.5" stroke="none" stroke-width="0" fill="#fff" />
<rect x="834.5" y="729.0" width="37.10000000000002" height="28.800000000000068" stroke="#a8a8a8" stroke-width="2.8" fill="#fff" rx="1.5"/>
<rect x="863.7" y="728.6" width="8.799999999999955" height="29.600000000000023" stroke="none" stroke-width="0" fill="#a8a8a8" />
<rect x="866.4" y="731.9200000000001" width="3.2000000000000455" height="4.0" stroke="none" stroke-width="0" fill="#fff" />
<rect x="866.4" y="741.4000000000001" width="3.2000000000000455" height="4.0" stroke="none" stroke-width="0" fill="#fff" />
<rect x="866.4" y="750.88" width="3.2000000000000455" height="4.0" stroke="none" stroke-width="0" fill="#fff" />
<rect x="851.2" y="729.6" width="2.099999999999909" height="27.600000000000023" stroke="none" stroke-width="0" fill="#a8a8a8" />
<rect x="837" y="729.6" width="2" height="27.600000000000023" stroke="none" stroke-width="0" fill="#a8a8a8" />
<rect x="837" y="742.4000000000001" width="26.700000000000045" height="2.0" stroke="none" stroke-width="0" fill="#a8a8a8" />
<rect x="833.1" y="734.6" width="1.8999999999999773" height="11.800000000000068" stroke="none" stroke-width="0" fill="#fff" />
<rect x="834.5" y="768.8" width="37.10000000000002" height="28.800000000000068" stroke="#a8a8a8" stroke-width="2.8" fill="#fff" rx="1.5"/>
<rect x="863.7" y="768.4" width="8.799999999999955" height="29.600000000000023" stroke="none" stroke-width="0" fill="#a8a8a8" />
<rect x="866.4" y="771.72" width="3.2000000000000455" height="4.0" stroke="none" stroke-width="0" fill="#fff" />
<rect x="866.4" y="781.2" width="3.2000000000000455" height="4.0" stroke="none" stroke-width="0" fill="#fff" />
<rect x="866.4" y="790.68" width="3.2000000000000455" height="4.0" stroke="none" stroke-width="0" fill="#fff" />
<rect x="851.2" y="769.4" width="2.099999999999909" height="27.600000000000023" stroke="none" stroke-width="0" fill="#a8a8a8" />
<rect x="837" y="769.4" width="2" height="27.600000000000023" stroke="none" stroke-width="0" fill="#a8a8a8" />
<rect x="837" y="782.2" width="26.700000000000045" height="2.0" stroke="none" stroke-width="0" fill="#a8a8a8" />
<rect x="833.1" y="774.4" width="1.8999999999999773" height="11.800000000000068" stroke="none" stroke-width="0" fill="#fff" />
<rect x="951.5" y="441.5" width="130.0" height="41.0" stroke="#acacac" stroke-width="1" fill="none" />
<line x1="995" y1="441.8" x2="995" y2="482" stroke="#a8a8a8" stroke-width="1.5" />
<line x1="1038.5" y1="441.5" x2="1038.5" y2="482.5" stroke="#acacac" stroke-width="1" />
<rect x="1160.5" y="443.5" width="39.0" height="43.0" stroke="#acacac" stroke-width="1" fill="none" />
<rect x="1158.6" y="487.3" width="41.200000000000045" height="42.69999999999999" stroke="#a8a8a8" stroke-width="1.2" fill="none" />
<line x1="1202.5" y1="444.5" x2="1202.5" y2="530.5" stroke="#acacac" stroke-width="1" />
<rect x="1201.3" y="483" width="2.0" height="4" stroke="none" stroke-width="0" fill="#a8a8a8" />
<rect x="1201.3" y="526" width="2.0" height="4" stroke="none" stroke-width="0" fill="#a8a8a8" />
<rect x="1159.5" y="532.5" width="43.0" height="159.0" stroke="#acacac" stroke-width="1" fill="none" />
<rect x="1180.5" y="534.5" width="22.0" height="43.0" stroke="#acacac" stroke-width="1" fill="none" />
<line x1="1159.5" y1="577.5" x2="1202.5" y2="577.5" stroke="#acacac" stroke-width="1" />
<line x1="1195.5" y1="577.5" x2="1195.5" y2="633.5" stroke="#acacac" stroke-width="1" />
<rect x="1163.5" y="605.5" width="28.0" height="24.0" stroke="#acacac" stroke-width="1" fill="none" />
<line x1="1159.5" y1="633.5" x2="1195.5" y2="633.5" stroke="#acacac" stroke-width="1" />
<line x1="1159.5" y1="652.5" x2="1202.5" y2="652.5" stroke="#acacac" stroke-width="1" />
<line x1="1159.5" y1="662.5" x2="1202.5" y2="662.5" stroke="#acacac" stroke-width="1" />
<line x1="1180.5" y1="662.5" x2="1180.5" y2="691.5" stroke="#acacac" stroke-width="1" />
<line x1="1184" y1="617.3" x2="1202" y2="617.3" stroke="#a8a8a8" stroke-width="1.5" />
<line x1="1194.7" y1="611.5" x2="1194.7" y2="623" stroke="#a8a8a8" stroke-width="2.4" />
<rect x="993.5" y="561.5" width="88.0" height="129.0" stroke="#acacac" stroke-width="1" fill="none" />
<line x1="1037.7" y1="561.3" x2="1037.7" y2="690" stroke="#a8a8a8" stroke-width="1.6" />
<line x1="993.3" y1="603.8" x2="1037.7" y2="603.8" stroke="#a8a8a8" stroke-width="1.4" />
<line x1="993.3" y1="647" x2="1037.7" y2="647" stroke="#a8a8a8" stroke-width="1.4" />
<line x1="1037.5" y1="605.5" x2="1082.5" y2="605.5" stroke="#acacac" stroke-width="1" />
<line x1="1037.5" y1="647.5" x2="1082.5" y2="647.5" stroke="#acacac" stroke-width="1" />
<line x1="1082.5" y1="605.5" x2="1082.5" y2="647.5" stroke="#acacac" stroke-width="1" />
<line x1="983.8" y1="560.5" x2="983.8" y2="691" stroke="#acacac" stroke-width="0.9" stroke-dasharray="3 1.5"/>
<line x1="1016.3" y1="561.5" x2="1016.3" y2="690" stroke="#acacac" stroke-width="0.9" stroke-dasharray="3 1.5"/>
<rect x="1035.5" y="575.5" width="27.0" height="52.0" stroke="#acacac" stroke-width="1" fill="none" />
<rect x="1040.5" y="583.5" width="37.0" height="42.0" stroke="#acacac" stroke-width="1" fill="none" />
<path d="M1040.5,584.5 L1059,584.5 L1053.5,598 L1053.5,607 L1060,625 M1040.5,625 L1045,607 L1045,598 L1040.5,584.5 M1045,598 L1053.5,598 M1045,607 L1053.5,607" stroke="#acacac" stroke-width="1" fill="none" />
<line x1="1036.3" y1="577" x2="1036.3" y2="626" stroke="#a8a8a8" stroke-width="1.2" />
<circle cx="954.4" cy="595.8" r="13.6" fill="#a8a8a8"/>
<circle cx="954.4" cy="595.8" r="6.8" fill="#fff"/>
<rect x="953.1" y="587.8" width="2.599999999999909" height="16.0" stroke="none" stroke-width="0" fill="#a8a8a8" />
<rect x="946.4" y="594.5" width="16.0" height="2.599999999999909" stroke="none" stroke-width="0" fill="#a8a8a8" />
<rect x="962.3" y="597.0" width="1" height="1" fill="#fff"/>
<rect x="964.5" y="597.4" width="1" height="1" fill="#fff"/>
<rect x="958.7" y="602.5" width="1" height="1" fill="#fff"/>
<rect x="959.9" y="604.3" width="1" height="1" fill="#fff"/>
<rect x="952.2" y="603.7" width="1" height="1" fill="#fff"/>
<rect x="951.8" y="605.9" width="1" height="1" fill="#fff"/>
<rect x="946.7" y="600.1" width="1" height="1" fill="#fff"/>
<rect x="944.9" y="601.3" width="1" height="1" fill="#fff"/>
<rect x="945.5" y="593.6" width="1" height="1" fill="#fff"/>
<rect x="943.3" y="593.2" width="1" height="1" fill="#fff"/>
<rect x="949.1" y="588.1" width="1" height="1" fill="#fff"/>
<rect x="947.9" y="586.3" width="1" height="1" fill="#fff"/>
<rect x="955.6" y="586.9" width="1" height="1" fill="#fff"/>
<rect x="956.0" y="584.7" width="1" height="1" fill="#fff"/>
<rect x="961.1" y="590.5" width="1" height="1" fill="#fff"/>
<rect x="962.9" y="589.3" width="1" height="1" fill="#fff"/>
<circle cx="954.4" cy="655.2" r="13.6" fill="#a8a8a8"/>
<circle cx="954.4" cy="655.2" r="6.8" fill="#fff"/>
<rect x="953.1" y="647.2" width="2.599999999999909" height="16.0" stroke="none" stroke-width="0" fill="#a8a8a8" />
<rect x="946.4" y="653.9000000000001" width="16.0" height="2.599999999999909" stroke="none" stroke-width="0" fill="#a8a8a8" />
<rect x="962.3" y="656.4" width="1" height="1" fill="#fff"/>
<rect x="964.5" y="656.8" width="1" height="1" fill="#fff"/>
<rect x="958.7" y="661.9" width="1" height="1" fill="#fff"/>
<rect x="959.9" y="663.7" width="1" height="1" fill="#fff"/>
<rect x="952.2" y="663.1" width="1" height="1" fill="#fff"/>
<rect x="951.8" y="665.3" width="1" height="1" fill="#fff"/>
<rect x="946.7" y="659.5" width="1" height="1" fill="#fff"/>
<rect x="944.9" y="660.7" width="1" height="1" fill="#fff"/>
<rect x="945.5" y="653.0" width="1" height="1" fill="#fff"/>
<rect x="943.3" y="652.6" width="1" height="1" fill="#fff"/>
<rect x="949.1" y="647.5" width="1" height="1" fill="#fff"/>
<rect x="947.9" y="645.7" width="1" height="1" fill="#fff"/>
<rect x="955.6" y="646.3" width="1" height="1" fill="#fff"/>
<rect x="956.0" y="644.1" width="1" height="1" fill="#fff"/>
<rect x="961.1" y="649.9" width="1" height="1" fill="#fff"/>
<rect x="962.9" y="648.7" width="1" height="1" fill="#fff"/>
<polygon points="1008.6,511.2 1015.6,510.9 1014.4,504.4 1016.8,501.5 1025,502.7 1026.2,508.6 1023.9,513.3 1026.2,520.3 1025.6,530.9 1021.5,538 1019.7,546.2 1013.9,548.6 1009.1,546.2 1005.6,538 1001.5,532.1 1000.9,522.7 1004.4,513.3" stroke="#a8a8a8" stroke-width="1" fill="#a8a8a8" />
<g transform="translate(1019,503.2) rotate(24.8)">
<rect x="-17.5" y="-2.6" width="35" height="5.2" fill="#fff" stroke="#a8a8a8" stroke-width="1.2"/>
<rect x="-12" y="-1.6" width="17" height="3.2" fill="#a8a8a8"/>
<rect x="8" y="-0.5" width="1" height="1" fill="#a8a8a8"/>
<rect x="10.5" y="-0.5" width="1" height="1" fill="#a8a8a8"/>
<rect x="13" y="-0.5" width="1" height="1" fill="#a8a8a8"/>
<rect x="15.5" y="-0.5" width="1" height="1" fill="#a8a8a8"/>
</g>
<path d="M1004.4,512.4 Q996,511 994.6,517 Q996,523 1001.5,524.5" stroke="#a8a8a8" stroke-width="1" fill="none" />
<path d="M1002,528.6 Q996,530 996.4,533 Q998,536.5 1002.5,535.6" stroke="#a8a8a8" stroke-width="1" fill="none" />
<path d="M1026,512.5 q3,1 3,4 q-1,3 -3,3" stroke="#a8a8a8" stroke-width="1" fill="none" />
<rect x="1016" y="517" width="1" height="1" fill="#fff"/>
<rect x="1006.5" y="534" width="1" height="1" fill="#fff"/>
<rect x="1017" y="543" width="1" height="1" fill="#fff"/>
<rect x="1020" y="508" width="1" height="1" fill="#fff"/>
<line x1="1016" y1="534" x2="1021" y2="530" stroke="#fff" stroke-width="1" />
<line x1="1003.5" y1="516" x2="1001.5" y2="521" stroke="#fff" stroke-width="1" />
<rect x="950.6" y="174" width="63.19999999999993" height="63.19999999999999" stroke="#a8a8a8" stroke-width="1.4" fill="none" />
<rect x="952.6" y="176" width="59.19999999999993" height="59.19999999999999" stroke="#acacac" stroke-width="0.9" fill="none" />
<circle cx="1002" cy="226.5" r="2" fill="none" stroke="#a8a8a8" stroke-width="1"/>
<path d="M978,225 q2.5,-3 5,0 M975,232 l4,0 M996,233 q2,-2.5 4,0" stroke="#a8a8a8" fill="none" stroke-width="1"/>
<ellipse cx="979.7" cy="292" rx="18.3" ry="13.2" fill="#fff" stroke="#acacac" stroke-width="1"/>
<path d="M949.6,281.5 L962.5,284.8 M949.6,302.1 L962.5,299.2" stroke="#acacac" stroke-width="1" fill="none" />
<circle cx="1062.5" cy="375.6" r="20.5" fill="none" stroke="#acacac" stroke-width="1"/>
<circle cx="1062.3" cy="375.7" r="2.1" fill="none" stroke="#a8a8a8" stroke-width="0.9"/>
<path d="M1069,357 Q1067.6,376 1068.8,394" stroke="#acacac" stroke-width="1" fill="none" />
<line x1="1066.5" y1="394.2" x2="1071.5" y2="394.2" stroke="#a8a8a8" stroke-width="1.6" />
<rect x="1087.5" y="173.5" width="15.0" height="124.0" stroke="#acacac" stroke-width="1" fill="none" />
<line x1="1087.5" y1="173" x2="1102.2" y2="297" stroke="#acacac" stroke-width="0.8" />
<line x1="1087.5" y1="297" x2="1102.2" y2="173" stroke="#acacac" stroke-width="0.8" />
<rect x="1087.5" y="297.5" width="15.0" height="54.0" stroke="#acacac" stroke-width="1" fill="none" />
<line x1="1087.5" y1="297" x2="1102.2" y2="351.3" stroke="#acacac" stroke-width="0.8" />
<line x1="1087.5" y1="351.3" x2="1102.2" y2="297" stroke="#acacac" stroke-width="0.8" />
<line x1="1087.5" y1="297" x2="1102.2" y2="297" stroke="#a8a8a8" stroke-width="1.4" />
<line x1="1101" y1="173" x2="1101" y2="351" stroke="#acacac" stroke-width="0.8" />
<rect x="1167.5" y="172.5" width="36.0" height="250.0" stroke="#acacac" stroke-width="1" fill="none" />
<rect x="1168.5" y="172.5" width="35.0" height="124.0" stroke="#acacac" stroke-width="1" fill="none" />
<line x1="1168.8" y1="172.5" x2="1203" y2="296.3" stroke="#acacac" stroke-width="0.8" />
<line x1="1168.8" y1="296.3" x2="1203" y2="172.5" stroke="#acacac" stroke-width="0.8" />
<rect x="1168.5" y="296.5" width="35.0" height="126.0" stroke="#acacac" stroke-width="1" fill="none" />
<line x1="1168.8" y1="296.3" x2="1203" y2="422.6" stroke="#acacac" stroke-width="0.8" />
<line x1="1168.8" y1="422.6" x2="1203" y2="296.3" stroke="#acacac" stroke-width="0.8" />
<line x1="1167.2" y1="296.3" x2="1203" y2="296.3" stroke="#a8a8a8" stroke-width="1.6" />
<line x1="0.5" y1="555.5" x2="1348.5" y2="555.5" stroke="#a0a0a0" stroke-width="1" />
<line x1="986.5" y1="471.5" x2="986.5" y2="571.5" stroke="#aaaaaa" stroke-width="1" />
<line x1="982.5" y1="478.5" x2="990.5" y2="486.5" stroke="#aaaaaa" stroke-width="1" />
<line x1="982.5" y1="556.5" x2="990.5" y2="564.5" stroke="#aaaaaa" stroke-width="1" />
<line x1="969.5" y1="560.5" x2="990.5" y2="560.5" stroke="#aaaaaa" stroke-width="1" />
<line x1="928.5" y1="550.5" x2="928.5" y2="691.5" stroke="#aaaaaa" stroke-width="1" />
<line x1="924.5" y1="556.5" x2="932.5" y2="564.5" stroke="#aaaaaa" stroke-width="1" />
<line x1="924.5" y1="687.5" x2="932.5" y2="695.5" stroke="#aaaaaa" stroke-width="1" />
<line x1="910.5" y1="560.5" x2="946.5" y2="560.5" stroke="#aaaaaa" stroke-width="1" />
<line x1="1071.5" y1="575.5" x2="1170.5" y2="575.5" stroke="#aaaaaa" stroke-width="1" />
<line x1="1077.5" y1="579.5" x2="1085.5" y2="571.5" stroke="#aaaaaa" stroke-width="1" />
<line x1="1156.5" y1="579.5" x2="1164.5" y2="571.5" stroke="#aaaaaa" stroke-width="1" />
<line x1="1081.5" y1="556.5" x2="1081.5" y2="584.5" stroke="#aaaaaa" stroke-width="1" />
<text x="922" y="625.5" font-size="16" text-anchor="middle" fill="#aaaaaa" transform="rotate(-90 922 625.5)" >1,83</text>
<text x="980.5" y="524.5" font-size="16" text-anchor="middle" fill="#aaaaaa" transform="rotate(-90 980.5 524.5)" >1,09</text>
<text x="968.5" y="500" font-size="10.5" text-anchor="middle" fill="#aaaaaa" transform="rotate(-90 968.5 500)" >5</text>
<text x="1121" y="568.8" font-size="16" text-anchor="middle" fill="#aaaaaa" >1,07</text>
<text x="1141.5" y="558" font-size="10.5" text-anchor="middle" fill="#aaaaaa" >5</text>
<text x="1133.8" y="312.5" font-size="16" text-anchor="middle" fill="#aaaaaa" >90</text>
<path d="M270.5,205.5 L270.5,135.5 L642.5,135.5 L642.5,171.5 L629.5,171.5 L629.5,178.5 L621.5,178.5 L621.5,171.5 L306.5,171.5 L306.5,205.5 Z" fill="url(#h)" fill-rule="evenodd" stroke="#000" stroke-width="1"/>
<path d="M270.5,292.5 L306.5,292.5 L306.5,365.5 L578.5,365.5 L578.5,249.5 L621.5,249.5 L621.5,241.5 L629.5,241.5 L629.5,257.5 L586.5,257.5 L586.5,365.5 L629.5,365.5 L629.5,423.5 L730.5,423.5 L730.5,485.5 L611.5,485.5 L611.5,383.5 L306.5,383.5 L306.5,550.5 L270.5,550.5 Z M620.5,440.5 L722.5,440.5 L722.5,477.5 L620.5,477.5 Z" fill="url(#h)" fill-rule="evenodd" stroke="#000" stroke-width="1"/>
<path d="M270.5,637.5 L306.5,637.5 L306.5,692.5 L362.5,692.5 L362.5,728.5 L270.5,728.5 Z" fill="url(#h)" fill-rule="evenodd" stroke="#000" stroke-width="1"/>
<path d="M520.5,692.5 L611.5,692.5 L611.5,744.5 L575.5,744.5 L575.5,728.5 L520.5,728.5 Z" fill="url(#h)" fill-rule="evenodd" stroke="#000" stroke-width="1"/>
<path d="M575.5,823.5 L611.5,823.5 L611.5,835.5 L612.5,835.5 L612.5,871.5 L575.5,871.5 Z" fill="url(#h)" fill-rule="evenodd" stroke="#000" stroke-width="1"/>
<path d="M899.5,821.5 L935.5,821.5 L935.5,871.5 L899.5,871.5 Z" fill="url(#h)" fill-rule="evenodd" stroke="#000" stroke-width="1"/>
<path d="M899.5,692.5 L992.5,692.5 L992.5,728.5 L935.5,728.5 L935.5,742.5 L899.5,742.5 Z" fill="url(#h)" fill-rule="evenodd" stroke="#000" stroke-width="1"/>
<path d="M1150.5,692.5 L1204.5,692.5 L1204.5,440.5 L1153.5,440.5 L1153.5,423.5 L1204.5,423.5 L1204.5,171.5 L1161.5,171.5 L1161.5,135.5 L1239.5,135.5 L1239.5,728.5 L1150.5,728.5 Z" fill="url(#h)" fill-rule="evenodd" stroke="#000" stroke-width="1"/>
<path d="M1067.5,135.5 L1118.5,135.5 L1118.5,171.5 L1086.5,171.5 L1086.5,423.5 L1091.5,423.5 L1091.5,440.5 L830.5,440.5 L830.5,423.5 L931.5,423.5 L931.5,413.5 L949.5,413.5 L949.5,423.5 L1078.5,423.5 L1078.5,171.5 L1067.5,171.5 Z" fill="url(#h)" fill-rule="evenodd" stroke="#000" stroke-width="1"/>
<path d="M719.5,135.5 L1024.5,135.5 L1024.5,171.5 L949.5,171.5 L949.5,350.5 L931.5,350.5 L931.5,171.5 L719.5,171.5 Z" fill="url(#h)" fill-rule="evenodd" stroke="#000" stroke-width="1"/>
<path d="M827.5,257.5 L845.5,257.5 L845.5,336.5 L827.5,336.5 Z" fill="url(#h)" fill-rule="evenodd" stroke="#000" stroke-width="1"/>
<path d="M845.5,328.5 L856.5,328.5 L856.5,336.5 L845.5,336.5 Z" fill="url(#h)" fill-rule="evenodd" stroke="#000" stroke-width="1"/>
<path d="M919.5,328.5 L931.5,328.5 L931.5,336.5 L919.5,336.5 Z" fill="url(#h)" fill-rule="evenodd" stroke="#000" stroke-width="1"/>
<path d="M784.5,35.5 L802.5,35.5 L802.5,135.5 L784.5,135.5 Z" fill="url(#h)" fill-rule="evenodd" stroke="#000" stroke-width="1"/>
<rect x="612.5" y="440.5" width="36.0" height="37.0" stroke="#000" stroke-width="1" fill="none" />
<line x1="620.5" y1="441.5" x2="648.5" y2="441.5" stroke="#000" stroke-width="1" />
<line x1="730.5" y1="434.5" x2="730.5" y2="440.5" stroke="#fff" stroke-width="1" />
<rect x="616.5" y="444.5" width="28.0" height="29.0" stroke="#000" stroke-width="1" fill="none" />
<polygon points="296.5,161.4 1214.7,161.4 1214.7,702.4 909.3,702.4 909.3,846.3 601.2,846.3 601.2,702.4 296.5,702.4" stroke="#000" stroke-width="1" fill="none" stroke-dasharray="3 1"/>
<polyline points="784.5,35.5 593.8,35.5 593.8,135.5" stroke="#000" stroke-width="1" fill="none" stroke-dasharray="3 1"/>
<line x1="642.5" y1="135.5" x2="719.5" y2="135.5" stroke="#000" stroke-width="1" stroke-dasharray="3 1"/>
<line x1="270.5" y1="205.5" x2="270.5" y2="292.5" stroke="#000" stroke-width="1" />
<line x1="306.5" y1="205.5" x2="306.5" y2="292.5" stroke="#000" stroke-width="1" />
<line x1="278.5" y1="205.5" x2="278.5" y2="292.5" stroke="#000" stroke-width="1" />
<line x1="283.5" y1="205.5" x2="283.5" y2="292.5" stroke="#000" stroke-width="1" />
<line x1="278.5" y1="214.5" x2="283.5" y2="214.5" stroke="#000" stroke-width="1" />
<line x1="278.5" y1="283.5" x2="283.5" y2="283.5" stroke="#000" stroke-width="1" />
<line x1="270.5" y1="550.5" x2="270.5" y2="637.5" stroke="#000" stroke-width="1" />
<line x1="306.5" y1="550.5" x2="306.5" y2="637.5" stroke="#000" stroke-width="1" />
<line x1="278.5" y1="550.5" x2="278.5" y2="637.5" stroke="#000" stroke-width="1" />
<line x1="283.5" y1="550.5" x2="283.5" y2="637.5" stroke="#000" stroke-width="1" />
<line x1="278.5" y1="559.5" x2="283.5" y2="559.5" stroke="#000" stroke-width="1" />
<line x1="278.5" y1="628.5" x2="283.5" y2="628.5" stroke="#000" stroke-width="1" />
<line x1="1024.5" y1="135.5" x2="1067.5" y2="135.5" stroke="#000" stroke-width="1" />
<line x1="1024.5" y1="171.5" x2="1067.5" y2="171.5" stroke="#000" stroke-width="1" />
<line x1="1024.5" y1="143.5" x2="1067.5" y2="143.5" stroke="#000" stroke-width="1" />
<line x1="1024.5" y1="148.5" x2="1067.5" y2="148.5" stroke="#000" stroke-width="1" />
<line x1="1033.5" y1="143.5" x2="1033.5" y2="148.5" stroke="#000" stroke-width="1" />
<line x1="1059.5" y1="143.5" x2="1059.5" y2="148.5" stroke="#000" stroke-width="1" />
<line x1="1118.5" y1="135.5" x2="1161.5" y2="135.5" stroke="#000" stroke-width="1" />
<line x1="1118.5" y1="171.5" x2="1161.5" y2="171.5" stroke="#000" stroke-width="1" />
<line x1="1118.5" y1="143.5" x2="1161.5" y2="143.5" stroke="#000" stroke-width="1" />
<line x1="1118.5" y1="148.5" x2="1161.5" y2="148.5" stroke="#000" stroke-width="1" />
<line x1="1126.5" y1="143.5" x2="1126.5" y2="148.5" stroke="#000" stroke-width="1" />
<line x1="1152.5" y1="143.5" x2="1152.5" y2="148.5" stroke="#000" stroke-width="1" />
<line x1="362.5" y1="728.5" x2="520.5" y2="728.5" stroke="#000" stroke-width="1" />
<line x1="362.5" y1="692.5" x2="520.5" y2="692.5" stroke="#000" stroke-width="1" />
<line x1="362.5" y1="720.5" x2="520.5" y2="720.5" stroke="#000" stroke-width="1" />
<line x1="362.5" y1="715.5" x2="520.5" y2="715.5" stroke="#000" stroke-width="1" />
<line x1="371.5" y1="720.5" x2="371.5" y2="715.5" stroke="#000" stroke-width="1" />
<line x1="511.5" y1="720.5" x2="511.5" y2="715.5" stroke="#000" stroke-width="1" />
<line x1="992.5" y1="728.5" x2="1150.5" y2="728.5" stroke="#000" stroke-width="1" />
<line x1="992.5" y1="692.5" x2="1150.5" y2="692.5" stroke="#000" stroke-width="1" />
<line x1="992.5" y1="720.5" x2="1150.5" y2="720.5" stroke="#000" stroke-width="1" />
<line x1="992.5" y1="715.5" x2="1150.5" y2="715.5" stroke="#000" stroke-width="1" />
<line x1="1001.5" y1="720.5" x2="1001.5" y2="715.5" stroke="#000" stroke-width="1" />
<line x1="1141.5" y1="720.5" x2="1141.5" y2="715.5" stroke="#000" stroke-width="1" />
<line x1="575.5" y1="744.5" x2="575.5" y2="823.5" stroke="#000" stroke-width="1" />
<line x1="611.5" y1="744.5" x2="611.5" y2="823.5" stroke="#000" stroke-width="1" />
<line x1="583.5" y1="744.5" x2="583.5" y2="823.5" stroke="#000" stroke-width="1" />
<line x1="588.5" y1="744.5" x2="588.5" y2="823.5" stroke="#000" stroke-width="1" />
<line x1="583.5" y1="753.5" x2="588.5" y2="753.5" stroke="#000" stroke-width="1" />
<line x1="583.5" y1="814.5" x2="588.5" y2="814.5" stroke="#000" stroke-width="1" />
<line x1="935.5" y1="742.5" x2="935.5" y2="821.5" stroke="#000" stroke-width="1" />
<line x1="899.5" y1="742.5" x2="899.5" y2="821.5" stroke="#000" stroke-width="1" />
<line x1="927.5" y1="742.5" x2="927.5" y2="821.5" stroke="#000" stroke-width="1" />
<line x1="922.5" y1="742.5" x2="922.5" y2="821.5" stroke="#000" stroke-width="1" />
<line x1="927.5" y1="751.5" x2="922.5" y2="751.5" stroke="#000" stroke-width="1" />
<line x1="927.5" y1="812.5" x2="922.5" y2="812.5" stroke="#000" stroke-width="1" />
<line x1="611.5" y1="835.5" x2="899.5" y2="835.5" stroke="#000" stroke-width="1" />
<line x1="611.5" y1="871.5" x2="899.5" y2="871.5" stroke="#000" stroke-width="1" />
<line x1="612.5" y1="858.5" x2="899.5" y2="858.5" stroke="#000" stroke-width="1" />
<line x1="612.5" y1="864.5" x2="899.5" y2="864.5" stroke="#000" stroke-width="1" />
<line x1="620.5" y1="858.5" x2="620.5" y2="864.5" stroke="#000" stroke-width="1" />
<line x1="890.5" y1="858.5" x2="890.5" y2="864.5" stroke="#000" stroke-width="1" />
<circle cx="593" cy="877" r="1.7" fill="none" stroke="#a8a8a8" stroke-width="1"/>
<line x1="593.5" y1="872.5" x2="593.5" y2="876.5" stroke="#a8a8a8" stroke-width="1" />
<circle cx="916.4" cy="877" r="1.7" fill="none" stroke="#a8a8a8" stroke-width="1"/>
<line x1="916.5" y1="872.5" x2="916.5" y2="876.5" stroke="#a8a8a8" stroke-width="1" />
<line x1="629.5" y1="171.5" x2="629.5" y2="433.5" stroke="#000" stroke-width="1" />
<line x1="629.5" y1="336.5" x2="931.5" y2="336.5" stroke="#000" stroke-width="1" />
<line x1="732.5" y1="171.5" x2="732.5" y2="336.5" stroke="#000" stroke-width="1" />
<line x1="739.5" y1="171.5" x2="739.5" y2="336.5" stroke="#000" stroke-width="1" />
<line x1="741.5" y1="171.5" x2="741.5" y2="336.5" stroke="#000" stroke-width="1" />
<path d="M642.4,171.5 L642.4,248.4 L649,248.4 M719.2,171.5 A76.8,76.8 0 0 1 649,248.2" stroke="#000" stroke-width="1" fill="none" />
<path d="M621.5,178.6 L558.8,178.6 A62.7,62.7 0 0 0 621.5,241.3" stroke="#000" stroke-width="1" fill="none" />
<path d="M949.3,413.3 L1012.5,413.3 M949.3,350 A63.3,63.3 0 0 1 1012.5,413.3" stroke="#000" stroke-width="1" fill="none" />
<path d="M1091.4,423.6 L1091.4,360.4 L1100.5,360.4 A59,59 0 0 1 1153.5,419 L1153.5,423.5" stroke="#000" stroke-width="1" fill="none" />
<path d="M919.6,328.4 L919.6,399.6 L913,399.6 M856.3,336.2 A63.3,63.3 0 0 0 913,399.5" stroke="#000" stroke-width="1" fill="none" />
<line x1="730.5" y1="423.5" x2="830.5" y2="423.5" stroke="#000" stroke-width="1" />
<line x1="730.5" y1="440.5" x2="830.5" y2="440.5" stroke="#000" stroke-width="1" />
<line x1="760.2" y1="171.6" x2="827.6" y2="261" stroke="#000" stroke-width="1" />
<line x1="912.8999999999999" y1="171.6" x2="845.4999999999999" y2="261" stroke="#000" stroke-width="1" />
<line x1="801.1" y1="171.6" x2="831" y2="257.5" stroke="#000" stroke-width="1" />
<line x1="871.9999999999999" y1="171.6" x2="842.0999999999999" y2="257.5" stroke="#000" stroke-width="1" />
<line x1="741.5" y1="204.1" x2="827.6" y2="269.8" stroke="#000" stroke-width="1" />
<line x1="931.5999999999999" y1="204.1" x2="845.4999999999999" y2="269.8" stroke="#000" stroke-width="1" />
<line x1="741.5" y1="238.9" x2="827.6" y2="278.6" stroke="#000" stroke-width="1" />
<line x1="931.5999999999999" y1="238.9" x2="845.4999999999999" y2="278.6" stroke="#000" stroke-width="1" />
<line x1="741.5" y1="267.8" x2="827.6" y2="289.8" stroke="#000" stroke-width="1" />
<line x1="931.5999999999999" y1="267.8" x2="845.4999999999999" y2="289.8" stroke="#000" stroke-width="1" />
<line x1="741.5" y1="292.7" x2="827.6" y2="303.4" stroke="#000" stroke-width="1" />
<line x1="931.5999999999999" y1="292.7" x2="845.4999999999999" y2="303.4" stroke="#000" stroke-width="1" />
<line x1="741.5" y1="315.4" x2="827.6" y2="319.3" stroke="#000" stroke-width="1" />
<line x1="931.5999999999999" y1="315.4" x2="845.4999999999999" y2="319.3" stroke="#000" stroke-width="1" />
<line x1="836.5" y1="171.5" x2="836.5" y2="257.5" stroke="#000" stroke-width="1" />
<path d="M784.3,331 L784.3,262 C784.3,232 806,213.9 830,213.9 L843,213.9 C867,213.9 888.5,232 888.5,262 L888.5,328.4" stroke="#000" stroke-width="1" fill="none" />
<circle cx="784.3" cy="336.6" r="5.6" fill="none" stroke="#000" stroke-width="1"/>
<path d="M880.3,328.4 L896.7,328.4 L888.5,336.2 Z" stroke="#000" stroke-width="1" fill="none" />
<path d="M741.5,174.7 L757.9,182.3 L741.5,189.8 Z" stroke="#000" stroke-width="0.5" fill="#000" />
<path d="M741.5,318.6 L757.9,326.2 L741.5,334 Z" stroke="#000" stroke-width="0.5" fill="#000" />
<text x="769.8" y="181" font-size="10.5" text-anchor="middle" fill="#000" transform="rotate(-90 769.8 181)" dominant-baseline="central">A</text>
<text x="769" y="326.2" font-size="10.5" text-anchor="middle" fill="#000" transform="rotate(-90 769 326.2)" dominant-baseline="central">A</text>
<line x1="763.3" y1="186.3" x2="771.3" y2="183.3" stroke="#000" stroke-width="1" />
<line x1="762" y1="320.3" x2="766.9" y2="322.1" stroke="#000" stroke-width="1" />
<line x1="762" y1="330.6" x2="766.9" y2="328.4" stroke="#000" stroke-width="1" />
<line x1="296.5" y1="96.5" x2="1214.5" y2="96.5" stroke="#000" stroke-width="1" />
<line x1="302.5" y1="100.5" x2="310.5" y2="92.5" stroke="#000" stroke-width="1" />
<line x1="737.5" y1="100.5" x2="745.5" y2="92.5" stroke="#000" stroke-width="1" />
<line x1="927.5" y1="100.5" x2="935.5" y2="92.5" stroke="#000" stroke-width="1" />
<line x1="945.5" y1="100.5" x2="953.5" y2="92.5" stroke="#000" stroke-width="1" />
<line x1="1074.5" y1="100.5" x2="1082.5" y2="92.5" stroke="#000" stroke-width="1" />
<line x1="1082.5" y1="100.5" x2="1090.5" y2="92.5" stroke="#000" stroke-width="1" />
<line x1="1200.5" y1="100.5" x2="1208.5" y2="92.5" stroke="#000" stroke-width="1" />
<line x1="306.5" y1="78.5" x2="306.5" y2="114.5" stroke="#000" stroke-width="1" />
<line x1="741.5" y1="78.5" x2="741.5" y2="114.5" stroke="#000" stroke-width="1" />
<line x1="931.5" y1="78.5" x2="931.5" y2="114.5" stroke="#000" stroke-width="1" />
<line x1="949.5" y1="78.5" x2="949.5" y2="114.5" stroke="#000" stroke-width="1" />
<line x1="1078.5" y1="78.5" x2="1078.5" y2="114.5" stroke="#000" stroke-width="1" />
<line x1="1086.5" y1="78.5" x2="1086.5" y2="114.5" stroke="#000" stroke-width="1" />
<line x1="1204.5" y1="78.5" x2="1204.5" y2="114.5" stroke="#000" stroke-width="1" />
<line x1="938.5" y1="52.5" x2="1214.5" y2="52.5" stroke="#000" stroke-width="1" />
<line x1="945.5" y1="56.5" x2="953.5" y2="48.5" stroke="#000" stroke-width="1" />
<line x1="1200.5" y1="56.5" x2="1208.5" y2="48.5" stroke="#000" stroke-width="1" />
<line x1="949.5" y1="34.5" x2="949.5" y2="70.5" stroke="#000" stroke-width="1" />
<line x1="1204.5" y1="34.5" x2="1204.5" y2="70.5" stroke="#000" stroke-width="1" />
<line x1="618.5" y1="272.5" x2="743.5" y2="272.5" stroke="#000" stroke-width="1" />
<line x1="625.5" y1="276.5" x2="633.5" y2="268.5" stroke="#000" stroke-width="1" />
<line x1="728.5" y1="276.5" x2="736.5" y2="268.5" stroke="#000" stroke-width="1" />
<line x1="575.5" y1="298.5" x2="640.5" y2="298.5" stroke="#000" stroke-width="1" />
<line x1="582.5" y1="302.5" x2="590.5" y2="294.5" stroke="#000" stroke-width="1" />
<line x1="625.5" y1="302.5" x2="633.5" y2="294.5" stroke="#000" stroke-width="1" />
<line x1="620.5" y1="415.5" x2="741.5" y2="415.5" stroke="#000" stroke-width="1" />
<line x1="625.5" y1="419.5" x2="633.5" y2="411.5" stroke="#000" stroke-width="1" />
<line x1="726.5" y1="419.5" x2="734.5" y2="411.5" stroke="#000" stroke-width="1" />
<line x1="730.5" y1="397.5" x2="730.5" y2="424.5" stroke="#000" stroke-width="1" />
<line x1="720.5" y1="465.5" x2="841.5" y2="465.5" stroke="#000" stroke-width="1" />
<line x1="726.5" y1="469.5" x2="734.5" y2="461.5" stroke="#000" stroke-width="1" />
<line x1="826.5" y1="469.5" x2="834.5" y2="461.5" stroke="#000" stroke-width="1" />
<line x1="830.5" y1="447.5" x2="830.5" y2="483.5" stroke="#000" stroke-width="1" />
<line x1="820.5" y1="415.5" x2="942.5" y2="415.5" stroke="#000" stroke-width="1" />
<line x1="826.5" y1="419.5" x2="834.5" y2="411.5" stroke="#000" stroke-width="1" />
<line x1="927.5" y1="419.5" x2="935.5" y2="411.5" stroke="#000" stroke-width="1" />
<line x1="830.5" y1="397.5" x2="830.5" y2="424.5" stroke="#000" stroke-width="1" />
<line x1="931.5" y1="397.5" x2="931.5" y2="433.5" stroke="#000" stroke-width="1" />
<line x1="1091.5" y1="319.5" x2="1177.5" y2="319.5" stroke="#000" stroke-width="1" />
<line x1="1097.5" y1="323.5" x2="1105.5" y2="315.5" stroke="#000" stroke-width="1" />
<line x1="1163.5" y1="323.5" x2="1171.5" y2="315.5" stroke="#000" stroke-width="1" />
<line x1="1101.5" y1="301.5" x2="1101.5" y2="337.5" stroke="#000" stroke-width="1" />
<line x1="1167.5" y1="301.5" x2="1167.5" y2="337.5" stroke="#000" stroke-width="1" />
<line x1="601.5" y1="652.5" x2="910.5" y2="652.5" stroke="#000" stroke-width="1" />
<line x1="607.5" y1="656.5" x2="615.5" y2="648.5" stroke="#000" stroke-width="1" />
<line x1="895.5" y1="656.5" x2="903.5" y2="648.5" stroke="#000" stroke-width="1" />
<line x1="611.5" y1="634.5" x2="611.5" y2="688.5" stroke="#000" stroke-width="1" />
<line x1="899.5" y1="634.5" x2="899.5" y2="678.5" stroke="#000" stroke-width="1" />
<line x1="296.5" y1="670.5" x2="622.5" y2="670.5" stroke="#000" stroke-width="1" />
<line x1="302.5" y1="674.5" x2="310.5" y2="666.5" stroke="#000" stroke-width="1" />
<line x1="607.5" y1="674.5" x2="615.5" y2="666.5" stroke="#000" stroke-width="1" />
<line x1="888.5" y1="660.5" x2="1214.5" y2="660.5" stroke="#000" stroke-width="1" />
<line x1="895.5" y1="664.5" x2="903.5" y2="656.5" stroke="#000" stroke-width="1" />
<line x1="1200.5" y1="664.5" x2="1208.5" y2="656.5" stroke="#000" stroke-width="1" />
<line x1="260.5" y1="952.5" x2="586.5" y2="952.5" stroke="#000" stroke-width="1" />
<line x1="266.5" y1="956.5" x2="274.5" y2="948.5" stroke="#000" stroke-width="1" />
<line x1="571.5" y1="956.5" x2="579.5" y2="948.5" stroke="#000" stroke-width="1" />
<line x1="270.5" y1="934.5" x2="270.5" y2="970.5" stroke="#000" stroke-width="1" />
<line x1="575.5" y1="934.5" x2="575.5" y2="970.5" stroke="#000" stroke-width="1" />
<line x1="924.5" y1="952.5" x2="1250.5" y2="952.5" stroke="#000" stroke-width="1" />
<line x1="931.5" y1="956.5" x2="939.5" y2="948.5" stroke="#000" stroke-width="1" />
<line x1="1235.5" y1="956.5" x2="1243.5" y2="948.5" stroke="#000" stroke-width="1" />
<line x1="935.5" y1="934.5" x2="935.5" y2="970.5" stroke="#000" stroke-width="1" />
<line x1="1239.5" y1="934.5" x2="1239.5" y2="970.5" stroke="#000" stroke-width="1" />
<line x1="565.5" y1="1004.5" x2="946.5" y2="1004.5" stroke="#000" stroke-width="1" />
<line x1="571.5" y1="1008.5" x2="579.5" y2="1000.5" stroke="#000" stroke-width="1" />
<line x1="931.5" y1="1008.5" x2="939.5" y2="1000.5" stroke="#000" stroke-width="1" />
<line x1="575.5" y1="986.5" x2="575.5" y2="1022.5" stroke="#000" stroke-width="1" />
<line x1="935.5" y1="986.5" x2="935.5" y2="1022.5" stroke="#000" stroke-width="1" />
<line x1="260.5" y1="1041.5" x2="1250.5" y2="1041.5" stroke="#000" stroke-width="1" />
<line x1="266.5" y1="1045.5" x2="274.5" y2="1037.5" stroke="#000" stroke-width="1" />
<line x1="1235.5" y1="1045.5" x2="1243.5" y2="1037.5" stroke="#000" stroke-width="1" />
<line x1="270.5" y1="1023.5" x2="270.5" y2="1059.5" stroke="#000" stroke-width="1" />
<line x1="1239.5" y1="1023.5" x2="1239.5" y2="1059.5" stroke="#000" stroke-width="1" />
<line x1="242.5" y1="160.5" x2="242.5" y2="702.5" stroke="#000" stroke-width="1" />
<line x1="238.5" y1="167.5" x2="246.5" y2="175.5" stroke="#000" stroke-width="1" />
<line x1="238.5" y1="361.5" x2="246.5" y2="369.5" stroke="#000" stroke-width="1" />
<line x1="238.5" y1="379.5" x2="246.5" y2="387.5" stroke="#000" stroke-width="1" />
<line x1="238.5" y1="688.5" x2="246.5" y2="696.5" stroke="#000" stroke-width="1" />
<line x1="224.5" y1="171.5" x2="260.5" y2="171.5" stroke="#000" stroke-width="1" />
<line x1="224.5" y1="365.5" x2="260.5" y2="365.5" stroke="#000" stroke-width="1" />
<line x1="224.5" y1="383.5" x2="260.5" y2="383.5" stroke="#000" stroke-width="1" />
<line x1="224.5" y1="692.5" x2="260.5" y2="692.5" stroke="#000" stroke-width="1" />
<line x1="1285.5" y1="161.5" x2="1285.5" y2="428.5" stroke="#000" stroke-width="1" />
<line x1="1281.5" y1="167.5" x2="1289.5" y2="175.5" stroke="#000" stroke-width="1" />
<line x1="1281.5" y1="419.5" x2="1289.5" y2="427.5" stroke="#000" stroke-width="1" />
<line x1="1267.5" y1="171.5" x2="1303.5" y2="171.5" stroke="#000" stroke-width="1" />
<line x1="1267.5" y1="423.5" x2="1303.5" y2="423.5" stroke="#000" stroke-width="1" />
<line x1="1288.5" y1="430.5" x2="1288.5" y2="702.5" stroke="#000" stroke-width="1" />
<line x1="1284.5" y1="436.5" x2="1292.5" y2="444.5" stroke="#000" stroke-width="1" />
<line x1="1284.5" y1="688.5" x2="1292.5" y2="696.5" stroke="#000" stroke-width="1" />
<line x1="1270.5" y1="440.5" x2="1306.5" y2="440.5" stroke="#000" stroke-width="1" />
<line x1="1270.5" y1="692.5" x2="1306.5" y2="692.5" stroke="#000" stroke-width="1" />
<line x1="586.5" y1="474.5" x2="586.5" y2="702.5" stroke="#000" stroke-width="1" />
<line x1="582.5" y1="481.5" x2="590.5" y2="489.5" stroke="#000" stroke-width="1" />
<line x1="582.5" y1="688.5" x2="590.5" y2="696.5" stroke="#000" stroke-width="1" />
<line x1="568.5" y1="485.5" x2="604.5" y2="485.5" stroke="#000" stroke-width="1" />
<line x1="563.5" y1="716.5" x2="563.5" y2="881.5" stroke="#000" stroke-width="1" />
<line x1="559.5" y1="723.5" x2="567.5" y2="731.5" stroke="#000" stroke-width="1" />
<line x1="559.5" y1="867.5" x2="567.5" y2="875.5" stroke="#000" stroke-width="1" />
<line x1="559.5" y1="727.5" x2="581.5" y2="727.5" stroke="#000" stroke-width="1" />
<line x1="546.5" y1="871.5" x2="575.5" y2="871.5" stroke="#000" stroke-width="1" />
<line x1="614.5" y1="247.5" x2="614.5" y2="376.5" stroke="#000" stroke-width="1" />
<line x1="610.5" y1="253.5" x2="618.5" y2="261.5" stroke="#000" stroke-width="1" />
<line x1="610.5" y1="361.5" x2="618.5" y2="369.5" stroke="#000" stroke-width="1" />
<line x1="880.5" y1="326.5" x2="880.5" y2="433.5" stroke="#000" stroke-width="1" />
<line x1="876.5" y1="332.5" x2="884.5" y2="340.5" stroke="#000" stroke-width="1" />
<line x1="876.5" y1="419.5" x2="884.5" y2="427.5" stroke="#000" stroke-width="1" />
<line x1="771.5" y1="161.5" x2="771.5" y2="347.5" stroke="#000" stroke-width="1" />
<line x1="767.5" y1="167.5" x2="775.5" y2="175.5" stroke="#000" stroke-width="1" />
<line x1="767.5" y1="332.5" x2="775.5" y2="340.5" stroke="#000" stroke-width="1" />
<text x="410.8" y="207.5" font-size="16.1" text-anchor="middle" fill="#000" >Arbeitszimmer</text>
<text x="411.2" y="226.2" font-size="16" text-anchor="middle" fill="#000" >10,87 m<tspan font-size="21" dy="1.2">²</tspan></text>
<text x="678.5" y="365" font-size="16.5" text-anchor="middle" fill="#000" >Diele</text>
<text x="677.5" y="383.7" font-size="16.5" text-anchor="middle" fill="#000" >9,91 m<tspan font-size="21" dy="1.2">²</tspan></text>
<text x="1034.4" y="257.5" font-size="16.5" text-anchor="middle" fill="#000" >Bad / WC</text>
<text x="1034.4" y="276.2" font-size="16.5" text-anchor="middle" fill="#000" >6,40 m<tspan font-size="21" dy="1.2">²</tspan></text>
<text x="1134.5" y="232" font-size="16.5" text-anchor="middle" fill="#000" >Speis</text>
<text x="1135" y="250.5" font-size="16.5" text-anchor="middle" fill="#000" >5,82 m<tspan font-size="21" dy="1.2">²</tspan></text>
<text x="746.9" y="553.8" font-size="16.65" text-anchor="middle" fill="#000" >Wohnen / Essen / Küche</text>
<text x="746.1" y="572.2" font-size="16.5" text-anchor="middle" fill="#000" >56,43 m<tspan font-size="21" dy="1.2">²</tspan></text>
<text x="648.7" y="463.8" font-size="16.5" text-anchor="start" fill="#000" >Eckkamin</text>
<text x="783.8" y="357.5" font-size="16" text-anchor="middle" fill="#000" >17 x 16,2/27,1</text>
<text x="522.5" y="89.5" font-size="16" text-anchor="middle" fill="#000" >6,05</text>
<text x="836" y="89.5" font-size="16" text-anchor="middle" fill="#000" >2,65</text>
<text x="1013.8" y="90" font-size="16" text-anchor="middle" fill="#000" >1,80</text>
<text x="1145.6" y="90" font-size="16" text-anchor="middle" fill="#000" >1,63</text>
<text x="1166.2" y="79.5" font-size="10.5" text-anchor="middle" fill="#000" >5</text>
<text x="1075.6" y="45.5" font-size="16" text-anchor="middle" fill="#000" >3,55</text>
<text x="1046" y="128.8" font-size="16" text-anchor="middle" fill="#000" >0,90 m</text>
<text x="1138.8" y="128.8" font-size="16" text-anchor="middle" fill="#000" >0,90 m</text>
<text x="264.2" y="247.5" font-size="16" text-anchor="middle" fill="#000" transform="rotate(-90 264.2 247.5)" >0,90 m</text>
<text x="321.6" y="592.5" font-size="16" text-anchor="middle" fill="#000" transform="rotate(-90 321.6 592.5)" >0,90 m</text>
<text x="235" y="267.5" font-size="16" text-anchor="middle" fill="#000" transform="rotate(-90 235 267.5)" >2,70</text>
<text x="236" y="537" font-size="16" text-anchor="middle" fill="#000" transform="rotate(-90 236 537)" >4,30</text>
<text x="1279.8" y="297" font-size="16" text-anchor="middle" fill="#000" transform="rotate(-90 1279.8 297)" >3,50</text>
<text x="1282.5" y="565" font-size="16" text-anchor="middle" fill="#000" transform="rotate(-90 1282.5 565)" >3,50</text>
<text x="681.5" y="265.8" font-size="16" text-anchor="middle" fill="#000" >1,43</text>
<text x="702.5" y="254.8" font-size="10.5" text-anchor="middle" fill="#000" >5</text>
<text x="607.4" y="291.5" font-size="16" text-anchor="middle" fill="#000" >60</text>
<text x="608.2" y="311" font-size="16" text-anchor="middle" fill="#000" transform="rotate(-90 608.2 311)" >1,50</text>
<text x="765" y="253" font-size="16" text-anchor="middle" fill="#000" transform="rotate(-90 765 253)" >2,30</text>
<text x="787" y="254" font-size="16" text-anchor="middle" fill="#000" transform="rotate(-90 787 254)" >2,51</text>
<text x="681" y="409" font-size="16" text-anchor="middle" fill="#000" >1,40</text>
<text x="880.8" y="408.8" font-size="16" text-anchor="middle" fill="#000" >1,40</text>
<text x="780" y="458.5" font-size="16" text-anchor="middle" fill="#000" >1,40</text>
<text x="778.8" y="437.5" font-size="16" text-anchor="middle" fill="#000" >2,20</text>
<text x="873.8" y="378" font-size="16" text-anchor="middle" fill="#000" transform="rotate(-90 873.8 378)" >1,20</text>
<text x="580" y="588" font-size="16" text-anchor="middle" fill="#000" transform="rotate(-90 580 588)" >2,88</text>
<text x="754.9" y="645.3" font-size="16" text-anchor="middle" fill="#000" >4,00</text>
<text x="458" y="663" font-size="16" text-anchor="middle" fill="#000" >4,25</text>
<text x="1050.8" y="653.3" font-size="16" text-anchor="middle" fill="#000" >4,25</text>
<text x="441.5" y="742.4" font-size="16" text-anchor="middle" fill="#000" >0,90 m</text>
<text x="1071" y="742.4" font-size="16" text-anchor="middle" fill="#000" >0,90 m</text>
<text x="754.9" y="885.5" font-size="16" text-anchor="middle" fill="#000" >0,00 m</text>
<text x="555.6" y="798" font-size="16" text-anchor="middle" fill="#000" transform="rotate(-90 555.6 798)" >2,00</text>
<text x="568.4" y="783" font-size="16" text-anchor="middle" fill="#000" transform="rotate(-90 568.4 783)" >0,00 m</text>
<text x="951.2" y="780.6" font-size="16" text-anchor="middle" fill="#000" transform="rotate(-90 951.2 780.6)" >0,00 m</text>
<text x="422.9" y="946.3" font-size="16" text-anchor="middle" fill="#000" >4,25</text>
<text x="1086.6" y="947" font-size="16" text-anchor="middle" fill="#000" >4,25</text>
<text x="755" y="997.8" font-size="16" text-anchor="middle" fill="#000" >5,00</text>
<text x="755" y="1034.9" font-size="16" text-anchor="middle" fill="#000" >13,50</text>
</svg>
</body></html>
